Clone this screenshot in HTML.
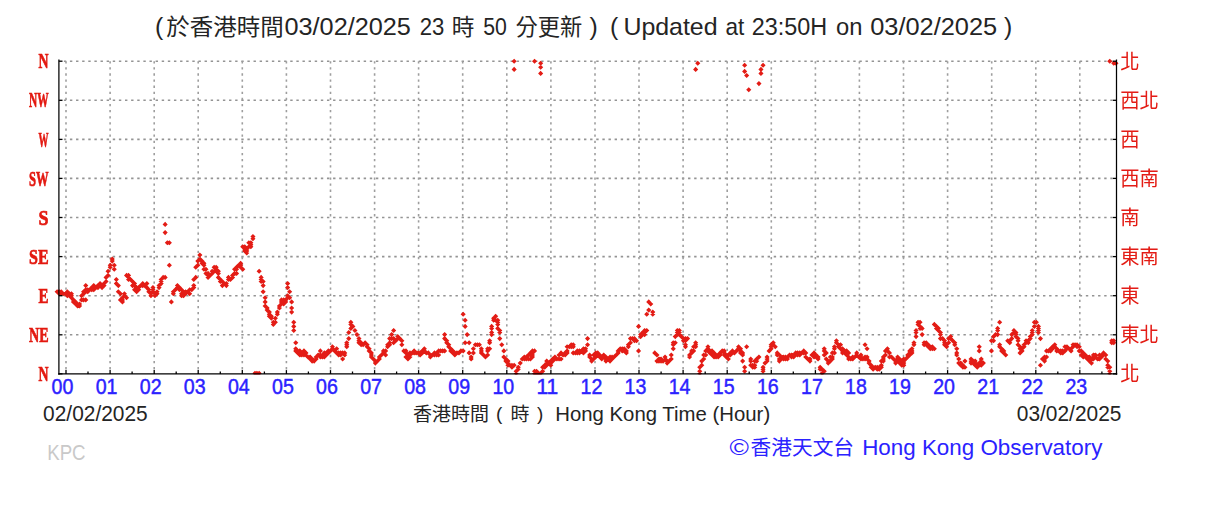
<!DOCTYPE html>
<html lang="zh-Hant"><head><meta charset="utf-8"><title>KPC wind direction</title>
<style>
html,body{margin:0;padding:0;background:#fff}
body{width:1224px;height:517px;overflow:hidden}
svg{display:block}
.t{font-family:"Liberation Sans","Noto Sans CJK TC",sans-serif;fill:#242424}
.ll{font-family:"Liberation Serif","Noto Serif CJK SC",serif;font-weight:bold;font-size:21px;fill:#e31a12;stroke:#e31a12;stroke-width:.7px}
.rl{font-family:"Liberation Sans","Noto Sans CJK TC",sans-serif;font-size:20px;fill:#e31a12}
.xl{font-family:"Liberation Sans",sans-serif;font-size:21.2px;fill:#2b22ff;stroke:#2b22ff;stroke-width:.45px}
</style></head><body>
<svg width="1224" height="517" viewBox="0 0 1224 517">
<defs><filter id="b" x="-2%" y="-2%" width="104%" height="104%"><feGaussianBlur stdDeviation="0.7"/></filter><clipPath id="cp"><rect x="50" y="55" width="1075" height="319.6"/></clipPath></defs>
<rect width="1224" height="517" fill="#fff"/>
<g class="t" font-size="24.8px">
<text x="154.9" y="35.4" textLength="10">(</text>
<text x="166.3" y="35.2" font-size="22.4px" textLength="117.5" lengthAdjust="spacingAndGlyphs">於香港時間</text>
<text x="284.5" y="35.4" textLength="126.4" lengthAdjust="spacingAndGlyphs">03/02/2025</text>
<text x="419.7" y="35.4" textLength="24.6" lengthAdjust="spacingAndGlyphs">23</text>
<text x="451.8" y="35.2" font-size="22.4px" textLength="22.7" lengthAdjust="spacingAndGlyphs">時</text>
<text x="483.2" y="35.4" textLength="23.6" lengthAdjust="spacingAndGlyphs">50</text>
<text x="515.6" y="35.2" font-size="22.4px" textLength="66.7" lengthAdjust="spacingAndGlyphs">分更新</text>
<text x="589.6" y="35.4">)</text>
<text x="610" y="35.4">(</text>
<text x="623.4" y="35.4" textLength="94.2" lengthAdjust="spacingAndGlyphs">Updated</text>
<text x="725.4" y="35.4" textLength="18.8" lengthAdjust="spacingAndGlyphs">at</text>
<text x="751.8" y="35.4" textLength="75.4" lengthAdjust="spacingAndGlyphs">23:50H</text>
<text x="836" y="35.4" textLength="26.4" lengthAdjust="spacingAndGlyphs">on</text>
<text x="870.2" y="35.4" textLength="127" lengthAdjust="spacingAndGlyphs">03/02/2025</text>
<text x="1004" y="35.4">)</text>
</g>
<g filter="url(#b)">
<g stroke="#949494" stroke-width="1.6" stroke-dasharray="2.4 3.72" stroke-dashoffset="0.1" fill="none"><line x1="63.9" y1="61.2" x2="1116.5" y2="61.2"/><line x1="63.9" y1="100.3" x2="1116.5" y2="100.3"/><line x1="63.9" y1="139.4" x2="1116.5" y2="139.4"/><line x1="63.9" y1="178.4" x2="1116.5" y2="178.4"/><line x1="63.9" y1="217.5" x2="1116.5" y2="217.5"/><line x1="63.9" y1="256.6" x2="1116.5" y2="256.6"/><line x1="63.9" y1="295.7" x2="1116.5" y2="295.7"/><line x1="63.9" y1="334.8" x2="1116.5" y2="334.8"/></g>
<g stroke="#9e9e9e" stroke-width="1.6" stroke-dasharray="2.3 3.82" stroke-dashoffset="0.1" fill="none"><line x1="66.0" y1="61.2" x2="66.0" y2="373.9"/><line x1="110.1" y1="61.2" x2="110.1" y2="373.9"/><line x1="154.2" y1="61.2" x2="154.2" y2="373.9"/><line x1="198.2" y1="61.2" x2="198.2" y2="373.9"/><line x1="242.3" y1="61.2" x2="242.3" y2="373.9"/><line x1="286.4" y1="61.2" x2="286.4" y2="373.9"/><line x1="330.5" y1="61.2" x2="330.5" y2="373.9"/><line x1="374.6" y1="61.2" x2="374.6" y2="373.9"/><line x1="418.6" y1="61.2" x2="418.6" y2="373.9"/><line x1="462.7" y1="61.2" x2="462.7" y2="373.9"/><line x1="506.8" y1="61.2" x2="506.8" y2="373.9"/><line x1="550.9" y1="61.2" x2="550.9" y2="373.9"/><line x1="595.0" y1="61.2" x2="595.0" y2="373.9"/><line x1="639.0" y1="61.2" x2="639.0" y2="373.9"/><line x1="683.1" y1="61.2" x2="683.1" y2="373.9"/><line x1="727.2" y1="61.2" x2="727.2" y2="373.9"/><line x1="771.3" y1="61.2" x2="771.3" y2="373.9"/><line x1="815.4" y1="61.2" x2="815.4" y2="373.9"/><line x1="859.4" y1="61.2" x2="859.4" y2="373.9"/><line x1="903.5" y1="61.2" x2="903.5" y2="373.9"/><line x1="947.6" y1="61.2" x2="947.6" y2="373.9"/><line x1="991.7" y1="61.2" x2="991.7" y2="373.9"/><line x1="1035.8" y1="61.2" x2="1035.8" y2="373.9"/><line x1="1079.8" y1="61.2" x2="1079.8" y2="373.9"/></g>
<path clip-path="url(#cp)" fill="#e31a12" d="M54.6 291.7l2.55 -2.55 2.55 2.55 -2.55 2.55zM56.7 293.8l2.55 -2.55 2.55 2.55 -2.55 2.55zM56.7 291.7l2.55 -2.55 2.55 2.55 -2.55 2.55zM58.7 291.7l2.55 -2.55 2.55 2.55 -2.55 2.55zM58.7 293.8l2.55 -2.55 2.55 2.55 -2.55 2.55zM60.7 293.8l2.55 -2.55 2.55 2.55 -2.55 2.55zM62.8 293.8l2.55 -2.55 2.55 2.55 -2.55 2.55zM64.8 291.7l2.55 -2.55 2.55 2.55 -2.55 2.55zM64.8 295.8l2.55 -2.55 2.55 2.55 -2.55 2.55zM64.8 293.8l2.55 -2.55 2.55 2.55 -2.55 2.55zM66.9 295.8l2.55 -2.55 2.55 2.55 -2.55 2.55zM66.9 293.8l2.55 -2.55 2.55 2.55 -2.55 2.55zM68.9 293.8l2.55 -2.55 2.55 2.55 -2.55 2.55zM68.9 295.8l2.55 -2.55 2.55 2.55 -2.55 2.55zM68.9 297.8l2.55 -2.55 2.55 2.55 -2.55 2.55zM70.9 299.9l2.55 -2.55 2.55 2.55 -2.55 2.55zM70.9 301.9l2.55 -2.55 2.55 2.55 -2.55 2.55zM73.0 301.9l2.55 -2.55 2.55 2.55 -2.55 2.55zM73.0 304.0l2.55 -2.55 2.55 2.55 -2.55 2.55zM75.0 306.0l2.55 -2.55 2.55 2.55 -2.55 2.55zM75.0 304.0l2.55 -2.55 2.55 2.55 -2.55 2.55zM77.0 306.0l2.55 -2.55 2.55 2.55 -2.55 2.55zM77.0 304.0l2.55 -2.55 2.55 2.55 -2.55 2.55zM79.0 299.9l2.55 -2.55 2.55 2.55 -2.55 2.55zM79.0 295.8l2.55 -2.55 2.55 2.55 -2.55 2.55zM81.0 293.8l2.55 -2.55 2.55 2.55 -2.55 2.55zM81.0 291.7l2.55 -2.55 2.55 2.55 -2.55 2.55zM83.2 291.7l2.55 -2.55 2.55 2.55 -2.55 2.55zM83.2 289.7l2.55 -2.55 2.55 2.55 -2.55 2.55zM85.2 289.7l2.55 -2.55 2.55 2.55 -2.55 2.55zM85.2 291.7l2.55 -2.55 2.55 2.55 -2.55 2.55zM87.2 289.7l2.55 -2.55 2.55 2.55 -2.55 2.55zM89.2 289.7l2.55 -2.55 2.55 2.55 -2.55 2.55zM89.2 287.6l2.55 -2.55 2.55 2.55 -2.55 2.55zM91.2 289.7l2.55 -2.55 2.55 2.55 -2.55 2.55zM91.2 285.6l2.55 -2.55 2.55 2.55 -2.55 2.55zM93.4 287.6l2.55 -2.55 2.55 2.55 -2.55 2.55zM95.4 285.6l2.55 -2.55 2.55 2.55 -2.55 2.55zM95.4 287.6l2.55 -2.55 2.55 2.55 -2.55 2.55zM97.5 283.6l2.55 -2.55 2.55 2.55 -2.55 2.55zM97.5 285.6l2.55 -2.55 2.55 2.55 -2.55 2.55zM99.5 285.6l2.55 -2.55 2.55 2.55 -2.55 2.55zM99.5 287.6l2.55 -2.55 2.55 2.55 -2.55 2.55zM101.5 285.6l2.55 -2.55 2.55 2.55 -2.55 2.55zM101.5 283.6l2.55 -2.55 2.55 2.55 -2.55 2.55zM103.5 281.5l2.55 -2.55 2.55 2.55 -2.55 2.55zM103.5 277.4l2.55 -2.55 2.55 2.55 -2.55 2.55zM105.5 275.4l2.55 -2.55 2.55 2.55 -2.55 2.55zM105.5 271.3l2.55 -2.55 2.55 2.55 -2.55 2.55zM107.7 267.2l2.55 -2.55 2.55 2.55 -2.55 2.55zM107.7 265.2l2.55 -2.55 2.55 2.55 -2.55 2.55zM109.7 259.1l2.55 -2.55 2.55 2.55 -2.55 2.55zM109.7 261.1l2.55 -2.55 2.55 2.55 -2.55 2.55zM111.7 265.2l2.55 -2.55 2.55 2.55 -2.55 2.55zM111.7 269.3l2.55 -2.55 2.55 2.55 -2.55 2.55zM113.8 279.5l2.55 -2.55 2.55 2.55 -2.55 2.55zM113.8 283.6l2.55 -2.55 2.55 2.55 -2.55 2.55zM115.8 285.6l2.55 -2.55 2.55 2.55 -2.55 2.55zM115.8 291.7l2.55 -2.55 2.55 2.55 -2.55 2.55zM117.9 293.8l2.55 -2.55 2.55 2.55 -2.55 2.55zM117.9 299.9l2.55 -2.55 2.55 2.55 -2.55 2.55zM119.9 301.9l2.55 -2.55 2.55 2.55 -2.55 2.55zM119.9 299.9l2.55 -2.55 2.55 2.55 -2.55 2.55zM119.9 297.8l2.55 -2.55 2.55 2.55 -2.55 2.55zM121.9 295.8l2.55 -2.55 2.55 2.55 -2.55 2.55zM121.9 293.8l2.55 -2.55 2.55 2.55 -2.55 2.55zM124.0 297.8l2.55 -2.55 2.55 2.55 -2.55 2.55zM124.0 275.4l2.55 -2.55 2.55 2.55 -2.55 2.55zM126.0 277.4l2.55 -2.55 2.55 2.55 -2.55 2.55zM126.0 275.4l2.55 -2.55 2.55 2.55 -2.55 2.55zM126.0 279.5l2.55 -2.55 2.55 2.55 -2.55 2.55zM128.0 279.5l2.55 -2.55 2.55 2.55 -2.55 2.55zM130.0 281.5l2.55 -2.55 2.55 2.55 -2.55 2.55zM130.0 285.6l2.55 -2.55 2.55 2.55 -2.55 2.55zM132.0 283.6l2.55 -2.55 2.55 2.55 -2.55 2.55zM132.0 285.6l2.55 -2.55 2.55 2.55 -2.55 2.55zM132.0 289.7l2.55 -2.55 2.55 2.55 -2.55 2.55zM134.1 287.6l2.55 -2.55 2.55 2.55 -2.55 2.55zM134.1 291.7l2.55 -2.55 2.55 2.55 -2.55 2.55zM136.1 289.7l2.55 -2.55 2.55 2.55 -2.55 2.55zM136.1 287.6l2.55 -2.55 2.55 2.55 -2.55 2.55zM138.2 285.6l2.55 -2.55 2.55 2.55 -2.55 2.55zM140.2 285.6l2.55 -2.55 2.55 2.55 -2.55 2.55zM140.2 283.6l2.55 -2.55 2.55 2.55 -2.55 2.55zM142.2 285.6l2.55 -2.55 2.55 2.55 -2.55 2.55zM144.3 283.6l2.55 -2.55 2.55 2.55 -2.55 2.55zM144.3 287.6l2.55 -2.55 2.55 2.55 -2.55 2.55zM146.3 289.7l2.55 -2.55 2.55 2.55 -2.55 2.55zM146.3 291.7l2.55 -2.55 2.55 2.55 -2.55 2.55zM148.4 295.8l2.55 -2.55 2.55 2.55 -2.55 2.55zM148.4 293.8l2.55 -2.55 2.55 2.55 -2.55 2.55zM150.4 289.7l2.55 -2.55 2.55 2.55 -2.55 2.55zM150.4 291.7l2.55 -2.55 2.55 2.55 -2.55 2.55zM150.4 287.6l2.55 -2.55 2.55 2.55 -2.55 2.55zM152.4 295.8l2.55 -2.55 2.55 2.55 -2.55 2.55zM152.4 293.8l2.55 -2.55 2.55 2.55 -2.55 2.55zM154.5 293.8l2.55 -2.55 2.55 2.55 -2.55 2.55zM154.5 291.7l2.55 -2.55 2.55 2.55 -2.55 2.55zM156.5 287.6l2.55 -2.55 2.55 2.55 -2.55 2.55zM156.5 285.6l2.55 -2.55 2.55 2.55 -2.55 2.55zM158.6 283.6l2.55 -2.55 2.55 2.55 -2.55 2.55zM158.6 281.5l2.55 -2.55 2.55 2.55 -2.55 2.55zM158.6 279.5l2.55 -2.55 2.55 2.55 -2.55 2.55zM160.6 277.4l2.55 -2.55 2.55 2.55 -2.55 2.55zM162.6 277.4l2.55 -2.55 2.55 2.55 -2.55 2.55zM170.8 293.8l2.55 -2.55 2.55 2.55 -2.55 2.55zM170.8 291.7l2.55 -2.55 2.55 2.55 -2.55 2.55zM172.8 289.7l2.55 -2.55 2.55 2.55 -2.55 2.55zM174.9 287.6l2.55 -2.55 2.55 2.55 -2.55 2.55zM174.9 285.6l2.55 -2.55 2.55 2.55 -2.55 2.55zM176.9 287.6l2.55 -2.55 2.55 2.55 -2.55 2.55zM176.9 289.7l2.55 -2.55 2.55 2.55 -2.55 2.55zM179.0 289.7l2.55 -2.55 2.55 2.55 -2.55 2.55zM179.0 293.8l2.55 -2.55 2.55 2.55 -2.55 2.55zM179.0 295.8l2.55 -2.55 2.55 2.55 -2.55 2.55zM181.0 291.7l2.55 -2.55 2.55 2.55 -2.55 2.55zM181.0 293.8l2.55 -2.55 2.55 2.55 -2.55 2.55zM181.0 295.8l2.55 -2.55 2.55 2.55 -2.55 2.55zM183.0 293.8l2.55 -2.55 2.55 2.55 -2.55 2.55zM183.0 291.7l2.55 -2.55 2.55 2.55 -2.55 2.55zM185.1 291.7l2.55 -2.55 2.55 2.55 -2.55 2.55zM187.1 289.7l2.55 -2.55 2.55 2.55 -2.55 2.55zM187.1 293.8l2.55 -2.55 2.55 2.55 -2.55 2.55zM189.2 289.7l2.55 -2.55 2.55 2.55 -2.55 2.55zM191.2 287.6l2.55 -2.55 2.55 2.55 -2.55 2.55zM191.2 285.6l2.55 -2.55 2.55 2.55 -2.55 2.55zM191.2 279.5l2.55 -2.55 2.55 2.55 -2.55 2.55zM193.2 277.4l2.55 -2.55 2.55 2.55 -2.55 2.55zM193.2 267.2l2.55 -2.55 2.55 2.55 -2.55 2.55zM195.3 265.2l2.55 -2.55 2.55 2.55 -2.55 2.55zM195.3 261.1l2.55 -2.55 2.55 2.55 -2.55 2.55zM197.3 259.1l2.55 -2.55 2.55 2.55 -2.55 2.55zM197.3 255.0l2.55 -2.55 2.55 2.55 -2.55 2.55zM199.4 261.1l2.55 -2.55 2.55 2.55 -2.55 2.55zM199.4 263.2l2.55 -2.55 2.55 2.55 -2.55 2.55zM201.4 265.2l2.55 -2.55 2.55 2.55 -2.55 2.55zM201.4 263.2l2.55 -2.55 2.55 2.55 -2.55 2.55zM201.4 269.3l2.55 -2.55 2.55 2.55 -2.55 2.55zM203.4 269.3l2.55 -2.55 2.55 2.55 -2.55 2.55zM203.4 273.4l2.55 -2.55 2.55 2.55 -2.55 2.55zM205.5 273.4l2.55 -2.55 2.55 2.55 -2.55 2.55zM205.5 275.4l2.55 -2.55 2.55 2.55 -2.55 2.55zM205.5 277.4l2.55 -2.55 2.55 2.55 -2.55 2.55zM207.5 275.4l2.55 -2.55 2.55 2.55 -2.55 2.55zM209.6 273.4l2.55 -2.55 2.55 2.55 -2.55 2.55zM209.6 271.3l2.55 -2.55 2.55 2.55 -2.55 2.55zM211.6 271.3l2.55 -2.55 2.55 2.55 -2.55 2.55zM211.6 267.2l2.55 -2.55 2.55 2.55 -2.55 2.55zM213.6 269.3l2.55 -2.55 2.55 2.55 -2.55 2.55zM213.6 267.2l2.55 -2.55 2.55 2.55 -2.55 2.55zM213.6 271.3l2.55 -2.55 2.55 2.55 -2.55 2.55zM215.8 271.3l2.55 -2.55 2.55 2.55 -2.55 2.55zM215.8 273.4l2.55 -2.55 2.55 2.55 -2.55 2.55zM215.8 277.4l2.55 -2.55 2.55 2.55 -2.55 2.55zM217.8 279.5l2.55 -2.55 2.55 2.55 -2.55 2.55zM217.8 281.5l2.55 -2.55 2.55 2.55 -2.55 2.55zM219.8 281.5l2.55 -2.55 2.55 2.55 -2.55 2.55zM219.8 285.6l2.55 -2.55 2.55 2.55 -2.55 2.55zM221.8 283.6l2.55 -2.55 2.55 2.55 -2.55 2.55zM223.8 285.6l2.55 -2.55 2.55 2.55 -2.55 2.55zM223.8 283.6l2.55 -2.55 2.55 2.55 -2.55 2.55zM225.9 279.5l2.55 -2.55 2.55 2.55 -2.55 2.55zM225.9 277.4l2.55 -2.55 2.55 2.55 -2.55 2.55zM227.9 279.5l2.55 -2.55 2.55 2.55 -2.55 2.55zM230.0 275.4l2.55 -2.55 2.55 2.55 -2.55 2.55zM230.0 277.4l2.55 -2.55 2.55 2.55 -2.55 2.55zM232.0 273.4l2.55 -2.55 2.55 2.55 -2.55 2.55zM232.0 269.3l2.55 -2.55 2.55 2.55 -2.55 2.55zM234.0 273.4l2.55 -2.55 2.55 2.55 -2.55 2.55zM234.0 269.3l2.55 -2.55 2.55 2.55 -2.55 2.55zM234.0 267.2l2.55 -2.55 2.55 2.55 -2.55 2.55zM236.1 265.2l2.55 -2.55 2.55 2.55 -2.55 2.55zM238.1 265.2l2.55 -2.55 2.55 2.55 -2.55 2.55zM238.1 263.2l2.55 -2.55 2.55 2.55 -2.55 2.55zM238.1 267.2l2.55 -2.55 2.55 2.55 -2.55 2.55zM240.2 269.3l2.55 -2.55 2.55 2.55 -2.55 2.55zM240.2 246.8l2.55 -2.55 2.55 2.55 -2.55 2.55zM242.2 250.9l2.55 -2.55 2.55 2.55 -2.55 2.55zM242.2 248.9l2.55 -2.55 2.55 2.55 -2.55 2.55zM244.2 253.0l2.55 -2.55 2.55 2.55 -2.55 2.55zM244.2 250.9l2.55 -2.55 2.55 2.55 -2.55 2.55zM246.3 246.8l2.55 -2.55 2.55 2.55 -2.55 2.55zM246.3 242.8l2.55 -2.55 2.55 2.55 -2.55 2.55zM248.3 244.8l2.55 -2.55 2.55 2.55 -2.55 2.55zM248.3 242.8l2.55 -2.55 2.55 2.55 -2.55 2.55zM250.4 238.7l2.55 -2.55 2.55 2.55 -2.55 2.55zM250.4 236.6l2.55 -2.55 2.55 2.55 -2.55 2.55zM256.6 271.3l2.55 -2.55 2.55 2.55 -2.55 2.55zM258.6 277.4l2.55 -2.55 2.55 2.55 -2.55 2.55zM258.6 279.5l2.55 -2.55 2.55 2.55 -2.55 2.55zM258.6 281.5l2.55 -2.55 2.55 2.55 -2.55 2.55zM260.6 281.5l2.55 -2.55 2.55 2.55 -2.55 2.55zM260.6 285.6l2.55 -2.55 2.55 2.55 -2.55 2.55zM260.6 291.7l2.55 -2.55 2.55 2.55 -2.55 2.55zM262.6 297.8l2.55 -2.55 2.55 2.55 -2.55 2.55zM262.6 301.9l2.55 -2.55 2.55 2.55 -2.55 2.55zM262.6 306.0l2.55 -2.55 2.55 2.55 -2.55 2.55zM264.6 308.0l2.55 -2.55 2.55 2.55 -2.55 2.55zM264.6 310.1l2.55 -2.55 2.55 2.55 -2.55 2.55zM266.8 314.2l2.55 -2.55 2.55 2.55 -2.55 2.55zM266.8 312.1l2.55 -2.55 2.55 2.55 -2.55 2.55zM266.8 316.2l2.55 -2.55 2.55 2.55 -2.55 2.55zM268.8 316.2l2.55 -2.55 2.55 2.55 -2.55 2.55zM268.8 318.2l2.55 -2.55 2.55 2.55 -2.55 2.55zM270.8 322.3l2.55 -2.55 2.55 2.55 -2.55 2.55zM270.8 324.4l2.55 -2.55 2.55 2.55 -2.55 2.55zM272.8 322.3l2.55 -2.55 2.55 2.55 -2.55 2.55zM272.8 318.2l2.55 -2.55 2.55 2.55 -2.55 2.55zM274.8 314.2l2.55 -2.55 2.55 2.55 -2.55 2.55zM274.8 312.1l2.55 -2.55 2.55 2.55 -2.55 2.55zM276.9 308.0l2.55 -2.55 2.55 2.55 -2.55 2.55zM276.9 306.0l2.55 -2.55 2.55 2.55 -2.55 2.55zM278.9 304.0l2.55 -2.55 2.55 2.55 -2.55 2.55zM278.9 301.9l2.55 -2.55 2.55 2.55 -2.55 2.55zM281.1 299.9l2.55 -2.55 2.55 2.55 -2.55 2.55zM283.1 299.9l2.55 -2.55 2.55 2.55 -2.55 2.55zM283.1 301.9l2.55 -2.55 2.55 2.55 -2.55 2.55zM285.1 297.8l2.55 -2.55 2.55 2.55 -2.55 2.55zM285.1 295.8l2.55 -2.55 2.55 2.55 -2.55 2.55zM293.2 348.8l2.55 -2.55 2.55 2.55 -2.55 2.55zM293.2 350.9l2.55 -2.55 2.55 2.55 -2.55 2.55zM295.2 350.9l2.55 -2.55 2.55 2.55 -2.55 2.55zM295.2 352.9l2.55 -2.55 2.55 2.55 -2.55 2.55zM297.3 352.9l2.55 -2.55 2.55 2.55 -2.55 2.55zM297.3 350.9l2.55 -2.55 2.55 2.55 -2.55 2.55zM297.3 355.0l2.55 -2.55 2.55 2.55 -2.55 2.55zM299.3 355.0l2.55 -2.55 2.55 2.55 -2.55 2.55zM299.3 352.9l2.55 -2.55 2.55 2.55 -2.55 2.55zM301.4 355.0l2.55 -2.55 2.55 2.55 -2.55 2.55zM301.4 352.9l2.55 -2.55 2.55 2.55 -2.55 2.55zM301.4 350.9l2.55 -2.55 2.55 2.55 -2.55 2.55zM303.4 352.9l2.55 -2.55 2.55 2.55 -2.55 2.55zM303.4 355.0l2.55 -2.55 2.55 2.55 -2.55 2.55zM305.4 357.0l2.55 -2.55 2.55 2.55 -2.55 2.55zM307.6 357.0l2.55 -2.55 2.55 2.55 -2.55 2.55zM307.6 359.0l2.55 -2.55 2.55 2.55 -2.55 2.55zM309.6 359.0l2.55 -2.55 2.55 2.55 -2.55 2.55zM309.6 361.1l2.55 -2.55 2.55 2.55 -2.55 2.55zM311.6 361.1l2.55 -2.55 2.55 2.55 -2.55 2.55zM313.6 357.0l2.55 -2.55 2.55 2.55 -2.55 2.55zM313.6 359.0l2.55 -2.55 2.55 2.55 -2.55 2.55zM315.6 355.0l2.55 -2.55 2.55 2.55 -2.55 2.55zM317.8 357.0l2.55 -2.55 2.55 2.55 -2.55 2.55zM317.8 350.9l2.55 -2.55 2.55 2.55 -2.55 2.55zM317.8 355.0l2.55 -2.55 2.55 2.55 -2.55 2.55zM319.8 357.0l2.55 -2.55 2.55 2.55 -2.55 2.55zM319.8 355.0l2.55 -2.55 2.55 2.55 -2.55 2.55zM321.8 357.0l2.55 -2.55 2.55 2.55 -2.55 2.55zM321.8 352.9l2.55 -2.55 2.55 2.55 -2.55 2.55zM323.8 352.9l2.55 -2.55 2.55 2.55 -2.55 2.55zM323.8 355.0l2.55 -2.55 2.55 2.55 -2.55 2.55zM325.8 352.9l2.55 -2.55 2.55 2.55 -2.55 2.55zM325.8 350.9l2.55 -2.55 2.55 2.55 -2.55 2.55zM327.9 350.9l2.55 -2.55 2.55 2.55 -2.55 2.55zM329.9 348.8l2.55 -2.55 2.55 2.55 -2.55 2.55zM329.9 346.8l2.55 -2.55 2.55 2.55 -2.55 2.55zM332.1 350.9l2.55 -2.55 2.55 2.55 -2.55 2.55zM334.1 348.8l2.55 -2.55 2.55 2.55 -2.55 2.55zM334.1 352.9l2.55 -2.55 2.55 2.55 -2.55 2.55zM336.1 352.9l2.55 -2.55 2.55 2.55 -2.55 2.55zM336.1 355.0l2.55 -2.55 2.55 2.55 -2.55 2.55zM338.1 352.9l2.55 -2.55 2.55 2.55 -2.55 2.55zM338.1 355.0l2.55 -2.55 2.55 2.55 -2.55 2.55zM340.1 352.9l2.55 -2.55 2.55 2.55 -2.55 2.55zM340.1 359.0l2.55 -2.55 2.55 2.55 -2.55 2.55zM342.2 355.0l2.55 -2.55 2.55 2.55 -2.55 2.55zM342.2 352.9l2.55 -2.55 2.55 2.55 -2.55 2.55zM344.2 346.8l2.55 -2.55 2.55 2.55 -2.55 2.55zM344.2 344.8l2.55 -2.55 2.55 2.55 -2.55 2.55zM344.2 342.7l2.55 -2.55 2.55 2.55 -2.55 2.55zM346.2 338.6l2.55 -2.55 2.55 2.55 -2.55 2.55zM346.2 332.5l2.55 -2.55 2.55 2.55 -2.55 2.55zM348.3 328.4l2.55 -2.55 2.55 2.55 -2.55 2.55zM348.3 324.4l2.55 -2.55 2.55 2.55 -2.55 2.55zM348.3 322.3l2.55 -2.55 2.55 2.55 -2.55 2.55zM350.3 326.4l2.55 -2.55 2.55 2.55 -2.55 2.55zM352.4 330.5l2.55 -2.55 2.55 2.55 -2.55 2.55zM354.4 334.6l2.55 -2.55 2.55 2.55 -2.55 2.55zM356.4 338.6l2.55 -2.55 2.55 2.55 -2.55 2.55zM356.4 340.7l2.55 -2.55 2.55 2.55 -2.55 2.55zM356.4 342.7l2.55 -2.55 2.55 2.55 -2.55 2.55zM358.6 342.7l2.55 -2.55 2.55 2.55 -2.55 2.55zM358.6 344.8l2.55 -2.55 2.55 2.55 -2.55 2.55zM360.6 344.8l2.55 -2.55 2.55 2.55 -2.55 2.55zM362.6 342.7l2.55 -2.55 2.55 2.55 -2.55 2.55zM364.6 344.8l2.55 -2.55 2.55 2.55 -2.55 2.55zM364.6 346.8l2.55 -2.55 2.55 2.55 -2.55 2.55zM366.6 348.8l2.55 -2.55 2.55 2.55 -2.55 2.55zM366.6 350.9l2.55 -2.55 2.55 2.55 -2.55 2.55zM368.8 352.9l2.55 -2.55 2.55 2.55 -2.55 2.55zM368.8 355.0l2.55 -2.55 2.55 2.55 -2.55 2.55zM368.8 357.0l2.55 -2.55 2.55 2.55 -2.55 2.55zM370.8 359.0l2.55 -2.55 2.55 2.55 -2.55 2.55zM372.8 361.1l2.55 -2.55 2.55 2.55 -2.55 2.55zM372.8 363.1l2.55 -2.55 2.55 2.55 -2.55 2.55zM374.8 361.1l2.55 -2.55 2.55 2.55 -2.55 2.55zM376.8 359.0l2.55 -2.55 2.55 2.55 -2.55 2.55zM376.8 357.0l2.55 -2.55 2.55 2.55 -2.55 2.55zM378.9 355.0l2.55 -2.55 2.55 2.55 -2.55 2.55zM380.9 352.9l2.55 -2.55 2.55 2.55 -2.55 2.55zM380.9 350.9l2.55 -2.55 2.55 2.55 -2.55 2.55zM383.1 355.0l2.55 -2.55 2.55 2.55 -2.55 2.55zM383.1 350.9l2.55 -2.55 2.55 2.55 -2.55 2.55zM385.1 346.8l2.55 -2.55 2.55 2.55 -2.55 2.55zM385.1 344.8l2.55 -2.55 2.55 2.55 -2.55 2.55zM387.1 344.8l2.55 -2.55 2.55 2.55 -2.55 2.55zM387.1 342.7l2.55 -2.55 2.55 2.55 -2.55 2.55zM387.1 338.6l2.55 -2.55 2.55 2.55 -2.55 2.55zM389.1 338.6l2.55 -2.55 2.55 2.55 -2.55 2.55zM389.1 334.6l2.55 -2.55 2.55 2.55 -2.55 2.55zM391.1 330.5l2.55 -2.55 2.55 2.55 -2.55 2.55zM391.1 338.6l2.55 -2.55 2.55 2.55 -2.55 2.55zM391.1 342.7l2.55 -2.55 2.55 2.55 -2.55 2.55zM393.2 340.7l2.55 -2.55 2.55 2.55 -2.55 2.55zM395.2 336.6l2.55 -2.55 2.55 2.55 -2.55 2.55zM395.2 338.6l2.55 -2.55 2.55 2.55 -2.55 2.55zM397.2 338.6l2.55 -2.55 2.55 2.55 -2.55 2.55zM399.3 340.7l2.55 -2.55 2.55 2.55 -2.55 2.55zM399.3 344.8l2.55 -2.55 2.55 2.55 -2.55 2.55zM401.3 350.9l2.55 -2.55 2.55 2.55 -2.55 2.55zM403.4 350.9l2.55 -2.55 2.55 2.55 -2.55 2.55zM403.4 352.9l2.55 -2.55 2.55 2.55 -2.55 2.55zM403.4 357.0l2.55 -2.55 2.55 2.55 -2.55 2.55zM405.4 355.0l2.55 -2.55 2.55 2.55 -2.55 2.55zM405.4 359.0l2.55 -2.55 2.55 2.55 -2.55 2.55zM407.4 357.0l2.55 -2.55 2.55 2.55 -2.55 2.55zM407.4 355.0l2.55 -2.55 2.55 2.55 -2.55 2.55zM407.4 352.9l2.55 -2.55 2.55 2.55 -2.55 2.55zM409.6 352.9l2.55 -2.55 2.55 2.55 -2.55 2.55zM411.6 352.9l2.55 -2.55 2.55 2.55 -2.55 2.55zM411.6 350.9l2.55 -2.55 2.55 2.55 -2.55 2.55zM413.6 352.9l2.55 -2.55 2.55 2.55 -2.55 2.55zM415.6 352.9l2.55 -2.55 2.55 2.55 -2.55 2.55zM417.6 355.0l2.55 -2.55 2.55 2.55 -2.55 2.55zM417.6 352.9l2.55 -2.55 2.55 2.55 -2.55 2.55zM419.8 352.9l2.55 -2.55 2.55 2.55 -2.55 2.55zM419.8 350.9l2.55 -2.55 2.55 2.55 -2.55 2.55zM421.8 350.9l2.55 -2.55 2.55 2.55 -2.55 2.55zM421.8 348.8l2.55 -2.55 2.55 2.55 -2.55 2.55zM423.8 352.9l2.55 -2.55 2.55 2.55 -2.55 2.55zM425.8 352.9l2.55 -2.55 2.55 2.55 -2.55 2.55zM427.8 357.0l2.55 -2.55 2.55 2.55 -2.55 2.55zM427.8 355.0l2.55 -2.55 2.55 2.55 -2.55 2.55zM429.9 355.0l2.55 -2.55 2.55 2.55 -2.55 2.55zM431.9 352.9l2.55 -2.55 2.55 2.55 -2.55 2.55zM431.9 355.0l2.55 -2.55 2.55 2.55 -2.55 2.55zM434.1 355.0l2.55 -2.55 2.55 2.55 -2.55 2.55zM434.1 352.9l2.55 -2.55 2.55 2.55 -2.55 2.55zM436.1 355.0l2.55 -2.55 2.55 2.55 -2.55 2.55zM436.1 350.9l2.55 -2.55 2.55 2.55 -2.55 2.55zM438.1 350.9l2.55 -2.55 2.55 2.55 -2.55 2.55zM440.1 350.9l2.55 -2.55 2.55 2.55 -2.55 2.55zM442.1 350.9l2.55 -2.55 2.55 2.55 -2.55 2.55zM442.1 334.6l2.55 -2.55 2.55 2.55 -2.55 2.55zM442.1 338.6l2.55 -2.55 2.55 2.55 -2.55 2.55zM444.2 340.7l2.55 -2.55 2.55 2.55 -2.55 2.55zM444.2 342.7l2.55 -2.55 2.55 2.55 -2.55 2.55zM446.2 344.8l2.55 -2.55 2.55 2.55 -2.55 2.55zM446.2 346.8l2.55 -2.55 2.55 2.55 -2.55 2.55zM448.2 348.8l2.55 -2.55 2.55 2.55 -2.55 2.55zM448.2 350.9l2.55 -2.55 2.55 2.55 -2.55 2.55zM450.3 352.9l2.55 -2.55 2.55 2.55 -2.55 2.55zM450.3 350.9l2.55 -2.55 2.55 2.55 -2.55 2.55zM452.3 355.0l2.55 -2.55 2.55 2.55 -2.55 2.55zM452.3 352.9l2.55 -2.55 2.55 2.55 -2.55 2.55zM454.4 352.9l2.55 -2.55 2.55 2.55 -2.55 2.55zM456.4 352.9l2.55 -2.55 2.55 2.55 -2.55 2.55zM458.4 350.9l2.55 -2.55 2.55 2.55 -2.55 2.55zM460.6 350.9l2.55 -2.55 2.55 2.55 -2.55 2.55zM466.6 352.9l2.55 -2.55 2.55 2.55 -2.55 2.55zM468.6 357.0l2.55 -2.55 2.55 2.55 -2.55 2.55zM468.6 359.0l2.55 -2.55 2.55 2.55 -2.55 2.55zM470.8 352.9l2.55 -2.55 2.55 2.55 -2.55 2.55zM470.8 348.8l2.55 -2.55 2.55 2.55 -2.55 2.55zM472.8 344.8l2.55 -2.55 2.55 2.55 -2.55 2.55zM474.8 344.8l2.55 -2.55 2.55 2.55 -2.55 2.55zM476.8 344.8l2.55 -2.55 2.55 2.55 -2.55 2.55zM478.8 348.8l2.55 -2.55 2.55 2.55 -2.55 2.55zM478.8 350.9l2.55 -2.55 2.55 2.55 -2.55 2.55zM478.8 352.9l2.55 -2.55 2.55 2.55 -2.55 2.55zM480.9 355.0l2.55 -2.55 2.55 2.55 -2.55 2.55zM482.9 357.0l2.55 -2.55 2.55 2.55 -2.55 2.55zM485.1 355.0l2.55 -2.55 2.55 2.55 -2.55 2.55zM485.1 350.9l2.55 -2.55 2.55 2.55 -2.55 2.55zM485.1 348.8l2.55 -2.55 2.55 2.55 -2.55 2.55zM487.1 348.8l2.55 -2.55 2.55 2.55 -2.55 2.55zM487.1 342.7l2.55 -2.55 2.55 2.55 -2.55 2.55zM487.1 340.7l2.55 -2.55 2.55 2.55 -2.55 2.55zM489.1 334.6l2.55 -2.55 2.55 2.55 -2.55 2.55zM489.1 332.5l2.55 -2.55 2.55 2.55 -2.55 2.55zM489.1 328.4l2.55 -2.55 2.55 2.55 -2.55 2.55zM489.1 326.4l2.55 -2.55 2.55 2.55 -2.55 2.55zM491.1 320.3l2.55 -2.55 2.55 2.55 -2.55 2.55zM491.1 318.2l2.55 -2.55 2.55 2.55 -2.55 2.55zM493.1 316.2l2.55 -2.55 2.55 2.55 -2.55 2.55zM493.1 320.3l2.55 -2.55 2.55 2.55 -2.55 2.55zM495.2 320.3l2.55 -2.55 2.55 2.55 -2.55 2.55zM495.2 322.3l2.55 -2.55 2.55 2.55 -2.55 2.55zM495.2 324.4l2.55 -2.55 2.55 2.55 -2.55 2.55zM495.2 328.4l2.55 -2.55 2.55 2.55 -2.55 2.55zM497.2 330.5l2.55 -2.55 2.55 2.55 -2.55 2.55zM497.2 332.5l2.55 -2.55 2.55 2.55 -2.55 2.55zM497.2 338.6l2.55 -2.55 2.55 2.55 -2.55 2.55zM499.2 344.8l2.55 -2.55 2.55 2.55 -2.55 2.55zM501.3 350.9l2.55 -2.55 2.55 2.55 -2.55 2.55zM501.3 357.0l2.55 -2.55 2.55 2.55 -2.55 2.55zM503.3 359.0l2.55 -2.55 2.55 2.55 -2.55 2.55zM503.3 361.1l2.55 -2.55 2.55 2.55 -2.55 2.55zM505.4 361.1l2.55 -2.55 2.55 2.55 -2.55 2.55zM505.4 363.1l2.55 -2.55 2.55 2.55 -2.55 2.55zM505.4 365.2l2.55 -2.55 2.55 2.55 -2.55 2.55zM507.4 365.2l2.55 -2.55 2.55 2.55 -2.55 2.55zM509.4 367.2l2.55 -2.55 2.55 2.55 -2.55 2.55zM509.4 365.2l2.55 -2.55 2.55 2.55 -2.55 2.55zM511.6 365.2l2.55 -2.55 2.55 2.55 -2.55 2.55zM513.6 371.3l2.55 -2.55 2.55 2.55 -2.55 2.55zM513.6 373.3l2.55 -2.55 2.55 2.55 -2.55 2.55zM515.7 369.2l2.55 -2.55 2.55 2.55 -2.55 2.55zM515.7 367.2l2.55 -2.55 2.55 2.55 -2.55 2.55zM517.7 363.1l2.55 -2.55 2.55 2.55 -2.55 2.55zM519.7 359.0l2.55 -2.55 2.55 2.55 -2.55 2.55zM521.8 359.0l2.55 -2.55 2.55 2.55 -2.55 2.55zM521.8 357.0l2.55 -2.55 2.55 2.55 -2.55 2.55zM523.8 359.0l2.55 -2.55 2.55 2.55 -2.55 2.55zM523.8 357.0l2.55 -2.55 2.55 2.55 -2.55 2.55zM525.9 355.0l2.55 -2.55 2.55 2.55 -2.55 2.55zM525.9 359.0l2.55 -2.55 2.55 2.55 -2.55 2.55zM527.9 355.0l2.55 -2.55 2.55 2.55 -2.55 2.55zM527.9 352.9l2.55 -2.55 2.55 2.55 -2.55 2.55zM529.9 352.9l2.55 -2.55 2.55 2.55 -2.55 2.55zM529.9 350.9l2.55 -2.55 2.55 2.55 -2.55 2.55zM529.9 355.0l2.55 -2.55 2.55 2.55 -2.55 2.55zM532.0 350.9l2.55 -2.55 2.55 2.55 -2.55 2.55zM532.0 373.3l2.55 -2.55 2.55 2.55 -2.55 2.55zM532.0 371.3l2.55 -2.55 2.55 2.55 -2.55 2.55zM534.0 371.3l2.55 -2.55 2.55 2.55 -2.55 2.55zM534.0 373.3l2.55 -2.55 2.55 2.55 -2.55 2.55zM536.1 373.3l2.55 -2.55 2.55 2.55 -2.55 2.55zM538.1 373.3l2.55 -2.55 2.55 2.55 -2.55 2.55zM540.1 371.3l2.55 -2.55 2.55 2.55 -2.55 2.55zM540.1 367.2l2.55 -2.55 2.55 2.55 -2.55 2.55zM542.2 367.2l2.55 -2.55 2.55 2.55 -2.55 2.55zM542.2 365.2l2.55 -2.55 2.55 2.55 -2.55 2.55zM544.2 365.2l2.55 -2.55 2.55 2.55 -2.55 2.55zM544.2 363.1l2.55 -2.55 2.55 2.55 -2.55 2.55zM544.2 361.1l2.55 -2.55 2.55 2.55 -2.55 2.55zM546.2 363.1l2.55 -2.55 2.55 2.55 -2.55 2.55zM548.2 365.2l2.55 -2.55 2.55 2.55 -2.55 2.55zM548.2 363.1l2.55 -2.55 2.55 2.55 -2.55 2.55zM548.2 361.1l2.55 -2.55 2.55 2.55 -2.55 2.55zM550.2 361.1l2.55 -2.55 2.55 2.55 -2.55 2.55zM550.2 359.0l2.55 -2.55 2.55 2.55 -2.55 2.55zM552.4 359.0l2.55 -2.55 2.55 2.55 -2.55 2.55zM552.4 357.0l2.55 -2.55 2.55 2.55 -2.55 2.55zM554.4 359.0l2.55 -2.55 2.55 2.55 -2.55 2.55zM556.5 359.0l2.55 -2.55 2.55 2.55 -2.55 2.55zM556.5 355.0l2.55 -2.55 2.55 2.55 -2.55 2.55zM558.5 359.0l2.55 -2.55 2.55 2.55 -2.55 2.55zM558.5 352.9l2.55 -2.55 2.55 2.55 -2.55 2.55zM560.5 355.0l2.55 -2.55 2.55 2.55 -2.55 2.55zM562.6 352.9l2.55 -2.55 2.55 2.55 -2.55 2.55zM562.6 355.0l2.55 -2.55 2.55 2.55 -2.55 2.55zM564.6 352.9l2.55 -2.55 2.55 2.55 -2.55 2.55zM564.6 350.9l2.55 -2.55 2.55 2.55 -2.55 2.55zM564.6 346.8l2.55 -2.55 2.55 2.55 -2.55 2.55zM566.7 346.8l2.55 -2.55 2.55 2.55 -2.55 2.55zM568.7 344.8l2.55 -2.55 2.55 2.55 -2.55 2.55zM568.7 346.8l2.55 -2.55 2.55 2.55 -2.55 2.55zM570.7 344.8l2.55 -2.55 2.55 2.55 -2.55 2.55zM570.7 346.8l2.55 -2.55 2.55 2.55 -2.55 2.55zM570.7 352.9l2.55 -2.55 2.55 2.55 -2.55 2.55zM572.8 352.9l2.55 -2.55 2.55 2.55 -2.55 2.55zM574.8 352.9l2.55 -2.55 2.55 2.55 -2.55 2.55zM574.8 350.9l2.55 -2.55 2.55 2.55 -2.55 2.55zM576.9 352.9l2.55 -2.55 2.55 2.55 -2.55 2.55zM576.9 350.9l2.55 -2.55 2.55 2.55 -2.55 2.55zM578.9 350.9l2.55 -2.55 2.55 2.55 -2.55 2.55zM580.9 348.8l2.55 -2.55 2.55 2.55 -2.55 2.55zM580.9 350.9l2.55 -2.55 2.55 2.55 -2.55 2.55zM580.9 352.9l2.55 -2.55 2.55 2.55 -2.55 2.55zM583.0 350.9l2.55 -2.55 2.55 2.55 -2.55 2.55zM583.0 348.8l2.55 -2.55 2.55 2.55 -2.55 2.55zM585.0 344.8l2.55 -2.55 2.55 2.55 -2.55 2.55zM585.0 338.6l2.55 -2.55 2.55 2.55 -2.55 2.55zM587.1 355.0l2.55 -2.55 2.55 2.55 -2.55 2.55zM587.1 357.0l2.55 -2.55 2.55 2.55 -2.55 2.55zM589.1 359.0l2.55 -2.55 2.55 2.55 -2.55 2.55zM589.1 361.1l2.55 -2.55 2.55 2.55 -2.55 2.55zM591.1 359.0l2.55 -2.55 2.55 2.55 -2.55 2.55zM591.1 355.0l2.55 -2.55 2.55 2.55 -2.55 2.55zM593.2 357.0l2.55 -2.55 2.55 2.55 -2.55 2.55zM593.2 352.9l2.55 -2.55 2.55 2.55 -2.55 2.55zM595.2 355.0l2.55 -2.55 2.55 2.55 -2.55 2.55zM595.2 352.9l2.55 -2.55 2.55 2.55 -2.55 2.55zM597.2 357.0l2.55 -2.55 2.55 2.55 -2.55 2.55zM597.2 355.0l2.55 -2.55 2.55 2.55 -2.55 2.55zM599.2 357.0l2.55 -2.55 2.55 2.55 -2.55 2.55zM599.2 359.0l2.55 -2.55 2.55 2.55 -2.55 2.55zM601.2 357.0l2.55 -2.55 2.55 2.55 -2.55 2.55zM601.2 355.0l2.55 -2.55 2.55 2.55 -2.55 2.55zM603.4 357.0l2.55 -2.55 2.55 2.55 -2.55 2.55zM603.4 359.0l2.55 -2.55 2.55 2.55 -2.55 2.55zM603.4 361.1l2.55 -2.55 2.55 2.55 -2.55 2.55zM605.4 359.0l2.55 -2.55 2.55 2.55 -2.55 2.55zM607.5 361.1l2.55 -2.55 2.55 2.55 -2.55 2.55zM607.5 357.0l2.55 -2.55 2.55 2.55 -2.55 2.55zM609.5 359.0l2.55 -2.55 2.55 2.55 -2.55 2.55zM609.5 357.0l2.55 -2.55 2.55 2.55 -2.55 2.55zM611.5 357.0l2.55 -2.55 2.55 2.55 -2.55 2.55zM613.6 355.0l2.55 -2.55 2.55 2.55 -2.55 2.55zM615.6 352.9l2.55 -2.55 2.55 2.55 -2.55 2.55zM615.6 350.9l2.55 -2.55 2.55 2.55 -2.55 2.55zM617.7 348.8l2.55 -2.55 2.55 2.55 -2.55 2.55zM619.7 348.8l2.55 -2.55 2.55 2.55 -2.55 2.55zM619.7 350.9l2.55 -2.55 2.55 2.55 -2.55 2.55zM621.7 350.9l2.55 -2.55 2.55 2.55 -2.55 2.55zM621.7 348.8l2.55 -2.55 2.55 2.55 -2.55 2.55zM623.8 350.9l2.55 -2.55 2.55 2.55 -2.55 2.55zM623.8 352.9l2.55 -2.55 2.55 2.55 -2.55 2.55zM625.8 346.8l2.55 -2.55 2.55 2.55 -2.55 2.55zM625.8 344.8l2.55 -2.55 2.55 2.55 -2.55 2.55zM627.9 342.7l2.55 -2.55 2.55 2.55 -2.55 2.55zM627.9 338.6l2.55 -2.55 2.55 2.55 -2.55 2.55zM629.9 338.6l2.55 -2.55 2.55 2.55 -2.55 2.55zM631.9 338.6l2.55 -2.55 2.55 2.55 -2.55 2.55zM631.9 340.7l2.55 -2.55 2.55 2.55 -2.55 2.55zM634.0 340.7l2.55 -2.55 2.55 2.55 -2.55 2.55zM636.0 326.4l2.55 -2.55 2.55 2.55 -2.55 2.55zM638.1 336.6l2.55 -2.55 2.55 2.55 -2.55 2.55zM638.1 334.6l2.55 -2.55 2.55 2.55 -2.55 2.55zM640.1 334.6l2.55 -2.55 2.55 2.55 -2.55 2.55zM640.1 332.5l2.55 -2.55 2.55 2.55 -2.55 2.55zM642.1 332.5l2.55 -2.55 2.55 2.55 -2.55 2.55zM642.1 330.5l2.55 -2.55 2.55 2.55 -2.55 2.55zM652.2 352.9l2.55 -2.55 2.55 2.55 -2.55 2.55zM654.4 355.0l2.55 -2.55 2.55 2.55 -2.55 2.55zM654.4 361.1l2.55 -2.55 2.55 2.55 -2.55 2.55zM656.4 361.1l2.55 -2.55 2.55 2.55 -2.55 2.55zM656.4 359.0l2.55 -2.55 2.55 2.55 -2.55 2.55zM658.5 359.0l2.55 -2.55 2.55 2.55 -2.55 2.55zM658.5 361.1l2.55 -2.55 2.55 2.55 -2.55 2.55zM660.5 361.1l2.55 -2.55 2.55 2.55 -2.55 2.55zM662.5 357.0l2.55 -2.55 2.55 2.55 -2.55 2.55zM662.5 359.0l2.55 -2.55 2.55 2.55 -2.55 2.55zM664.6 361.1l2.55 -2.55 2.55 2.55 -2.55 2.55zM664.6 363.1l2.55 -2.55 2.55 2.55 -2.55 2.55zM666.6 361.1l2.55 -2.55 2.55 2.55 -2.55 2.55zM668.7 359.0l2.55 -2.55 2.55 2.55 -2.55 2.55zM668.7 355.0l2.55 -2.55 2.55 2.55 -2.55 2.55zM670.7 348.8l2.55 -2.55 2.55 2.55 -2.55 2.55zM670.7 342.7l2.55 -2.55 2.55 2.55 -2.55 2.55zM670.7 344.8l2.55 -2.55 2.55 2.55 -2.55 2.55zM672.7 342.7l2.55 -2.55 2.55 2.55 -2.55 2.55zM672.7 336.6l2.55 -2.55 2.55 2.55 -2.55 2.55zM674.8 332.5l2.55 -2.55 2.55 2.55 -2.55 2.55zM674.8 330.5l2.55 -2.55 2.55 2.55 -2.55 2.55zM676.8 330.5l2.55 -2.55 2.55 2.55 -2.55 2.55zM676.8 334.6l2.55 -2.55 2.55 2.55 -2.55 2.55zM678.9 336.6l2.55 -2.55 2.55 2.55 -2.55 2.55zM680.9 338.6l2.55 -2.55 2.55 2.55 -2.55 2.55zM680.9 340.7l2.55 -2.55 2.55 2.55 -2.55 2.55zM682.9 338.6l2.55 -2.55 2.55 2.55 -2.55 2.55zM682.9 340.7l2.55 -2.55 2.55 2.55 -2.55 2.55zM685.0 338.6l2.55 -2.55 2.55 2.55 -2.55 2.55zM687.0 357.0l2.55 -2.55 2.55 2.55 -2.55 2.55zM687.0 355.0l2.55 -2.55 2.55 2.55 -2.55 2.55zM689.1 350.9l2.55 -2.55 2.55 2.55 -2.55 2.55zM689.1 352.9l2.55 -2.55 2.55 2.55 -2.55 2.55zM691.1 350.9l2.55 -2.55 2.55 2.55 -2.55 2.55zM691.1 346.8l2.55 -2.55 2.55 2.55 -2.55 2.55zM693.1 346.8l2.55 -2.55 2.55 2.55 -2.55 2.55zM693.1 344.8l2.55 -2.55 2.55 2.55 -2.55 2.55zM693.1 342.7l2.55 -2.55 2.55 2.55 -2.55 2.55zM697.2 373.3l2.55 -2.55 2.55 2.55 -2.55 2.55zM697.2 371.3l2.55 -2.55 2.55 2.55 -2.55 2.55zM697.2 367.2l2.55 -2.55 2.55 2.55 -2.55 2.55zM699.2 365.2l2.55 -2.55 2.55 2.55 -2.55 2.55zM699.2 361.1l2.55 -2.55 2.55 2.55 -2.55 2.55zM701.2 359.0l2.55 -2.55 2.55 2.55 -2.55 2.55zM701.2 355.0l2.55 -2.55 2.55 2.55 -2.55 2.55zM703.2 355.0l2.55 -2.55 2.55 2.55 -2.55 2.55zM703.2 350.9l2.55 -2.55 2.55 2.55 -2.55 2.55zM705.4 350.9l2.55 -2.55 2.55 2.55 -2.55 2.55zM705.4 346.8l2.55 -2.55 2.55 2.55 -2.55 2.55zM705.4 348.8l2.55 -2.55 2.55 2.55 -2.55 2.55zM707.4 350.9l2.55 -2.55 2.55 2.55 -2.55 2.55zM707.4 352.9l2.55 -2.55 2.55 2.55 -2.55 2.55zM709.5 350.9l2.55 -2.55 2.55 2.55 -2.55 2.55zM709.5 352.9l2.55 -2.55 2.55 2.55 -2.55 2.55zM709.5 355.0l2.55 -2.55 2.55 2.55 -2.55 2.55zM711.5 352.9l2.55 -2.55 2.55 2.55 -2.55 2.55zM711.5 355.0l2.55 -2.55 2.55 2.55 -2.55 2.55zM711.5 357.0l2.55 -2.55 2.55 2.55 -2.55 2.55zM713.5 355.0l2.55 -2.55 2.55 2.55 -2.55 2.55zM713.5 357.0l2.55 -2.55 2.55 2.55 -2.55 2.55zM715.6 357.0l2.55 -2.55 2.55 2.55 -2.55 2.55zM715.6 355.0l2.55 -2.55 2.55 2.55 -2.55 2.55zM717.6 352.9l2.55 -2.55 2.55 2.55 -2.55 2.55zM717.6 355.0l2.55 -2.55 2.55 2.55 -2.55 2.55zM719.7 350.9l2.55 -2.55 2.55 2.55 -2.55 2.55zM721.7 352.9l2.55 -2.55 2.55 2.55 -2.55 2.55zM721.7 350.9l2.55 -2.55 2.55 2.55 -2.55 2.55zM721.7 355.0l2.55 -2.55 2.55 2.55 -2.55 2.55zM723.7 355.0l2.55 -2.55 2.55 2.55 -2.55 2.55zM723.7 357.0l2.55 -2.55 2.55 2.55 -2.55 2.55zM725.8 355.0l2.55 -2.55 2.55 2.55 -2.55 2.55zM725.8 359.0l2.55 -2.55 2.55 2.55 -2.55 2.55zM727.8 355.0l2.55 -2.55 2.55 2.55 -2.55 2.55zM727.8 352.9l2.55 -2.55 2.55 2.55 -2.55 2.55zM729.9 352.9l2.55 -2.55 2.55 2.55 -2.55 2.55zM729.9 350.9l2.55 -2.55 2.55 2.55 -2.55 2.55zM731.9 352.9l2.55 -2.55 2.55 2.55 -2.55 2.55zM733.9 350.9l2.55 -2.55 2.55 2.55 -2.55 2.55zM736.0 348.8l2.55 -2.55 2.55 2.55 -2.55 2.55zM736.0 346.8l2.55 -2.55 2.55 2.55 -2.55 2.55zM738.0 350.9l2.55 -2.55 2.55 2.55 -2.55 2.55zM738.0 352.9l2.55 -2.55 2.55 2.55 -2.55 2.55zM738.0 348.8l2.55 -2.55 2.55 2.55 -2.55 2.55zM740.1 352.9l2.55 -2.55 2.55 2.55 -2.55 2.55zM740.1 355.0l2.55 -2.55 2.55 2.55 -2.55 2.55zM740.1 361.1l2.55 -2.55 2.55 2.55 -2.55 2.55zM742.1 367.2l2.55 -2.55 2.55 2.55 -2.55 2.55zM742.1 371.3l2.55 -2.55 2.55 2.55 -2.55 2.55zM748.2 359.0l2.55 -2.55 2.55 2.55 -2.55 2.55zM748.2 361.1l2.55 -2.55 2.55 2.55 -2.55 2.55zM748.2 365.2l2.55 -2.55 2.55 2.55 -2.55 2.55zM750.2 367.2l2.55 -2.55 2.55 2.55 -2.55 2.55zM750.2 365.2l2.55 -2.55 2.55 2.55 -2.55 2.55zM752.2 365.2l2.55 -2.55 2.55 2.55 -2.55 2.55zM752.2 361.1l2.55 -2.55 2.55 2.55 -2.55 2.55zM754.2 361.1l2.55 -2.55 2.55 2.55 -2.55 2.55zM754.2 359.0l2.55 -2.55 2.55 2.55 -2.55 2.55zM756.4 357.0l2.55 -2.55 2.55 2.55 -2.55 2.55zM760.5 371.3l2.55 -2.55 2.55 2.55 -2.55 2.55zM760.5 369.2l2.55 -2.55 2.55 2.55 -2.55 2.55zM760.5 367.2l2.55 -2.55 2.55 2.55 -2.55 2.55zM762.5 363.1l2.55 -2.55 2.55 2.55 -2.55 2.55zM764.5 361.1l2.55 -2.55 2.55 2.55 -2.55 2.55zM764.5 359.0l2.55 -2.55 2.55 2.55 -2.55 2.55zM764.5 357.0l2.55 -2.55 2.55 2.55 -2.55 2.55zM766.6 350.9l2.55 -2.55 2.55 2.55 -2.55 2.55zM768.6 346.8l2.55 -2.55 2.55 2.55 -2.55 2.55zM768.6 348.8l2.55 -2.55 2.55 2.55 -2.55 2.55zM768.6 344.8l2.55 -2.55 2.55 2.55 -2.55 2.55zM770.7 344.8l2.55 -2.55 2.55 2.55 -2.55 2.55zM770.7 342.7l2.55 -2.55 2.55 2.55 -2.55 2.55zM772.7 346.8l2.55 -2.55 2.55 2.55 -2.55 2.55zM774.7 352.9l2.55 -2.55 2.55 2.55 -2.55 2.55zM774.7 355.0l2.55 -2.55 2.55 2.55 -2.55 2.55zM776.8 355.0l2.55 -2.55 2.55 2.55 -2.55 2.55zM776.8 359.0l2.55 -2.55 2.55 2.55 -2.55 2.55zM776.8 361.1l2.55 -2.55 2.55 2.55 -2.55 2.55zM778.8 359.0l2.55 -2.55 2.55 2.55 -2.55 2.55zM778.8 357.0l2.55 -2.55 2.55 2.55 -2.55 2.55zM780.9 357.0l2.55 -2.55 2.55 2.55 -2.55 2.55zM780.9 359.0l2.55 -2.55 2.55 2.55 -2.55 2.55zM782.9 359.0l2.55 -2.55 2.55 2.55 -2.55 2.55zM782.9 357.0l2.55 -2.55 2.55 2.55 -2.55 2.55zM784.9 357.0l2.55 -2.55 2.55 2.55 -2.55 2.55zM784.9 359.0l2.55 -2.55 2.55 2.55 -2.55 2.55zM787.0 355.0l2.55 -2.55 2.55 2.55 -2.55 2.55zM789.0 355.0l2.55 -2.55 2.55 2.55 -2.55 2.55zM789.0 357.0l2.55 -2.55 2.55 2.55 -2.55 2.55zM791.1 357.0l2.55 -2.55 2.55 2.55 -2.55 2.55zM791.1 355.0l2.55 -2.55 2.55 2.55 -2.55 2.55zM793.1 355.0l2.55 -2.55 2.55 2.55 -2.55 2.55zM793.1 352.9l2.55 -2.55 2.55 2.55 -2.55 2.55zM795.1 352.9l2.55 -2.55 2.55 2.55 -2.55 2.55zM795.1 355.0l2.55 -2.55 2.55 2.55 -2.55 2.55zM797.2 355.0l2.55 -2.55 2.55 2.55 -2.55 2.55zM797.2 352.9l2.55 -2.55 2.55 2.55 -2.55 2.55zM799.2 352.9l2.55 -2.55 2.55 2.55 -2.55 2.55zM801.2 352.9l2.55 -2.55 2.55 2.55 -2.55 2.55zM801.2 350.9l2.55 -2.55 2.55 2.55 -2.55 2.55zM803.2 352.9l2.55 -2.55 2.55 2.55 -2.55 2.55zM803.2 357.0l2.55 -2.55 2.55 2.55 -2.55 2.55zM805.2 359.0l2.55 -2.55 2.55 2.55 -2.55 2.55zM807.4 359.0l2.55 -2.55 2.55 2.55 -2.55 2.55zM807.4 361.1l2.55 -2.55 2.55 2.55 -2.55 2.55zM809.4 355.0l2.55 -2.55 2.55 2.55 -2.55 2.55zM811.5 352.9l2.55 -2.55 2.55 2.55 -2.55 2.55zM811.5 357.0l2.55 -2.55 2.55 2.55 -2.55 2.55zM813.5 357.0l2.55 -2.55 2.55 2.55 -2.55 2.55zM813.5 355.0l2.55 -2.55 2.55 2.55 -2.55 2.55zM815.5 357.0l2.55 -2.55 2.55 2.55 -2.55 2.55zM815.5 359.0l2.55 -2.55 2.55 2.55 -2.55 2.55zM817.6 367.2l2.55 -2.55 2.55 2.55 -2.55 2.55zM817.6 369.2l2.55 -2.55 2.55 2.55 -2.55 2.55zM819.6 369.2l2.55 -2.55 2.55 2.55 -2.55 2.55zM819.6 373.3l2.55 -2.55 2.55 2.55 -2.55 2.55zM821.7 371.3l2.55 -2.55 2.55 2.55 -2.55 2.55zM821.7 348.8l2.55 -2.55 2.55 2.55 -2.55 2.55zM821.7 350.9l2.55 -2.55 2.55 2.55 -2.55 2.55zM821.7 355.0l2.55 -2.55 2.55 2.55 -2.55 2.55zM823.7 352.9l2.55 -2.55 2.55 2.55 -2.55 2.55zM823.7 359.0l2.55 -2.55 2.55 2.55 -2.55 2.55zM825.7 361.1l2.55 -2.55 2.55 2.55 -2.55 2.55zM825.7 363.1l2.55 -2.55 2.55 2.55 -2.55 2.55zM827.8 361.1l2.55 -2.55 2.55 2.55 -2.55 2.55zM827.8 357.0l2.55 -2.55 2.55 2.55 -2.55 2.55zM829.8 359.0l2.55 -2.55 2.55 2.55 -2.55 2.55zM829.8 357.0l2.55 -2.55 2.55 2.55 -2.55 2.55zM829.8 352.9l2.55 -2.55 2.55 2.55 -2.55 2.55zM831.9 352.9l2.55 -2.55 2.55 2.55 -2.55 2.55zM831.9 348.8l2.55 -2.55 2.55 2.55 -2.55 2.55zM831.9 346.8l2.55 -2.55 2.55 2.55 -2.55 2.55zM833.9 340.7l2.55 -2.55 2.55 2.55 -2.55 2.55zM833.9 342.7l2.55 -2.55 2.55 2.55 -2.55 2.55zM835.9 344.8l2.55 -2.55 2.55 2.55 -2.55 2.55zM835.9 346.8l2.55 -2.55 2.55 2.55 -2.55 2.55zM838.0 344.8l2.55 -2.55 2.55 2.55 -2.55 2.55zM838.0 348.8l2.55 -2.55 2.55 2.55 -2.55 2.55zM840.0 352.9l2.55 -2.55 2.55 2.55 -2.55 2.55zM840.0 348.8l2.55 -2.55 2.55 2.55 -2.55 2.55zM840.0 350.9l2.55 -2.55 2.55 2.55 -2.55 2.55zM842.1 350.9l2.55 -2.55 2.55 2.55 -2.55 2.55zM842.1 352.9l2.55 -2.55 2.55 2.55 -2.55 2.55zM844.1 350.9l2.55 -2.55 2.55 2.55 -2.55 2.55zM844.1 355.0l2.55 -2.55 2.55 2.55 -2.55 2.55zM846.1 352.9l2.55 -2.55 2.55 2.55 -2.55 2.55zM846.1 357.0l2.55 -2.55 2.55 2.55 -2.55 2.55zM846.1 359.0l2.55 -2.55 2.55 2.55 -2.55 2.55zM848.2 359.0l2.55 -2.55 2.55 2.55 -2.55 2.55zM850.2 357.0l2.55 -2.55 2.55 2.55 -2.55 2.55zM850.2 359.0l2.55 -2.55 2.55 2.55 -2.55 2.55zM852.2 357.0l2.55 -2.55 2.55 2.55 -2.55 2.55zM854.2 355.0l2.55 -2.55 2.55 2.55 -2.55 2.55zM854.2 352.9l2.55 -2.55 2.55 2.55 -2.55 2.55zM856.2 357.0l2.55 -2.55 2.55 2.55 -2.55 2.55zM858.4 357.0l2.55 -2.55 2.55 2.55 -2.55 2.55zM858.4 355.0l2.55 -2.55 2.55 2.55 -2.55 2.55zM858.4 359.0l2.55 -2.55 2.55 2.55 -2.55 2.55zM860.4 359.0l2.55 -2.55 2.55 2.55 -2.55 2.55zM862.5 359.0l2.55 -2.55 2.55 2.55 -2.55 2.55zM862.5 357.0l2.55 -2.55 2.55 2.55 -2.55 2.55zM864.5 357.0l2.55 -2.55 2.55 2.55 -2.55 2.55zM864.5 359.0l2.55 -2.55 2.55 2.55 -2.55 2.55zM866.5 361.1l2.55 -2.55 2.55 2.55 -2.55 2.55zM866.5 363.1l2.55 -2.55 2.55 2.55 -2.55 2.55zM868.6 367.2l2.55 -2.55 2.55 2.55 -2.55 2.55zM868.6 365.2l2.55 -2.55 2.55 2.55 -2.55 2.55zM870.6 369.2l2.55 -2.55 2.55 2.55 -2.55 2.55zM870.6 367.2l2.55 -2.55 2.55 2.55 -2.55 2.55zM872.7 367.2l2.55 -2.55 2.55 2.55 -2.55 2.55zM874.7 367.2l2.55 -2.55 2.55 2.55 -2.55 2.55zM874.7 369.2l2.55 -2.55 2.55 2.55 -2.55 2.55zM876.7 367.2l2.55 -2.55 2.55 2.55 -2.55 2.55zM876.7 369.2l2.55 -2.55 2.55 2.55 -2.55 2.55zM878.8 367.2l2.55 -2.55 2.55 2.55 -2.55 2.55zM878.8 365.2l2.55 -2.55 2.55 2.55 -2.55 2.55zM878.8 361.1l2.55 -2.55 2.55 2.55 -2.55 2.55zM880.8 361.1l2.55 -2.55 2.55 2.55 -2.55 2.55zM880.8 359.0l2.55 -2.55 2.55 2.55 -2.55 2.55zM880.8 357.0l2.55 -2.55 2.55 2.55 -2.55 2.55zM882.9 355.0l2.55 -2.55 2.55 2.55 -2.55 2.55zM882.9 350.9l2.55 -2.55 2.55 2.55 -2.55 2.55zM884.9 350.9l2.55 -2.55 2.55 2.55 -2.55 2.55zM884.9 348.8l2.55 -2.55 2.55 2.55 -2.55 2.55zM886.9 352.9l2.55 -2.55 2.55 2.55 -2.55 2.55zM886.9 357.0l2.55 -2.55 2.55 2.55 -2.55 2.55zM889.0 357.0l2.55 -2.55 2.55 2.55 -2.55 2.55zM891.0 359.0l2.55 -2.55 2.55 2.55 -2.55 2.55zM893.1 363.1l2.55 -2.55 2.55 2.55 -2.55 2.55zM893.1 361.1l2.55 -2.55 2.55 2.55 -2.55 2.55zM895.1 361.1l2.55 -2.55 2.55 2.55 -2.55 2.55zM895.1 357.0l2.55 -2.55 2.55 2.55 -2.55 2.55zM895.1 359.0l2.55 -2.55 2.55 2.55 -2.55 2.55zM897.1 363.1l2.55 -2.55 2.55 2.55 -2.55 2.55zM897.1 359.0l2.55 -2.55 2.55 2.55 -2.55 2.55zM899.2 363.1l2.55 -2.55 2.55 2.55 -2.55 2.55zM901.2 365.2l2.55 -2.55 2.55 2.55 -2.55 2.55zM901.2 359.0l2.55 -2.55 2.55 2.55 -2.55 2.55zM901.2 361.1l2.55 -2.55 2.55 2.55 -2.55 2.55zM903.2 359.0l2.55 -2.55 2.55 2.55 -2.55 2.55zM905.2 357.0l2.55 -2.55 2.55 2.55 -2.55 2.55zM905.2 355.0l2.55 -2.55 2.55 2.55 -2.55 2.55zM907.2 355.0l2.55 -2.55 2.55 2.55 -2.55 2.55zM907.2 352.9l2.55 -2.55 2.55 2.55 -2.55 2.55zM907.2 350.9l2.55 -2.55 2.55 2.55 -2.55 2.55zM909.4 352.9l2.55 -2.55 2.55 2.55 -2.55 2.55zM909.4 350.9l2.55 -2.55 2.55 2.55 -2.55 2.55zM909.4 348.8l2.55 -2.55 2.55 2.55 -2.55 2.55zM911.4 344.8l2.55 -2.55 2.55 2.55 -2.55 2.55zM911.4 342.7l2.55 -2.55 2.55 2.55 -2.55 2.55zM913.5 336.6l2.55 -2.55 2.55 2.55 -2.55 2.55zM913.5 332.5l2.55 -2.55 2.55 2.55 -2.55 2.55zM913.5 330.5l2.55 -2.55 2.55 2.55 -2.55 2.55zM915.5 324.4l2.55 -2.55 2.55 2.55 -2.55 2.55zM915.5 322.3l2.55 -2.55 2.55 2.55 -2.55 2.55zM917.5 322.3l2.55 -2.55 2.55 2.55 -2.55 2.55zM917.5 326.4l2.55 -2.55 2.55 2.55 -2.55 2.55zM917.5 328.4l2.55 -2.55 2.55 2.55 -2.55 2.55zM919.6 328.4l2.55 -2.55 2.55 2.55 -2.55 2.55zM919.6 334.6l2.55 -2.55 2.55 2.55 -2.55 2.55zM921.6 342.7l2.55 -2.55 2.55 2.55 -2.55 2.55zM923.7 342.7l2.55 -2.55 2.55 2.55 -2.55 2.55zM923.7 344.8l2.55 -2.55 2.55 2.55 -2.55 2.55zM925.7 346.8l2.55 -2.55 2.55 2.55 -2.55 2.55zM925.7 344.8l2.55 -2.55 2.55 2.55 -2.55 2.55zM927.7 346.8l2.55 -2.55 2.55 2.55 -2.55 2.55zM927.7 348.8l2.55 -2.55 2.55 2.55 -2.55 2.55zM929.8 348.8l2.55 -2.55 2.55 2.55 -2.55 2.55zM929.8 346.8l2.55 -2.55 2.55 2.55 -2.55 2.55zM931.8 348.8l2.55 -2.55 2.55 2.55 -2.55 2.55zM931.8 324.4l2.55 -2.55 2.55 2.55 -2.55 2.55zM933.9 328.4l2.55 -2.55 2.55 2.55 -2.55 2.55zM933.9 326.4l2.55 -2.55 2.55 2.55 -2.55 2.55zM935.9 330.5l2.55 -2.55 2.55 2.55 -2.55 2.55zM935.9 328.4l2.55 -2.55 2.55 2.55 -2.55 2.55zM937.9 332.5l2.55 -2.55 2.55 2.55 -2.55 2.55zM937.9 334.6l2.55 -2.55 2.55 2.55 -2.55 2.55zM937.9 338.6l2.55 -2.55 2.55 2.55 -2.55 2.55zM940.0 338.6l2.55 -2.55 2.55 2.55 -2.55 2.55zM942.0 340.7l2.55 -2.55 2.55 2.55 -2.55 2.55zM942.0 342.7l2.55 -2.55 2.55 2.55 -2.55 2.55zM942.0 344.8l2.55 -2.55 2.55 2.55 -2.55 2.55zM944.1 346.8l2.55 -2.55 2.55 2.55 -2.55 2.55zM944.1 344.8l2.55 -2.55 2.55 2.55 -2.55 2.55zM946.1 342.7l2.55 -2.55 2.55 2.55 -2.55 2.55zM946.1 338.6l2.55 -2.55 2.55 2.55 -2.55 2.55zM948.1 338.6l2.55 -2.55 2.55 2.55 -2.55 2.55zM948.1 336.6l2.55 -2.55 2.55 2.55 -2.55 2.55zM950.2 340.7l2.55 -2.55 2.55 2.55 -2.55 2.55zM952.2 342.7l2.55 -2.55 2.55 2.55 -2.55 2.55zM952.2 344.8l2.55 -2.55 2.55 2.55 -2.55 2.55zM954.2 348.8l2.55 -2.55 2.55 2.55 -2.55 2.55zM954.2 352.9l2.55 -2.55 2.55 2.55 -2.55 2.55zM954.2 355.0l2.55 -2.55 2.55 2.55 -2.55 2.55zM956.2 359.0l2.55 -2.55 2.55 2.55 -2.55 2.55zM956.2 363.1l2.55 -2.55 2.55 2.55 -2.55 2.55zM958.2 363.1l2.55 -2.55 2.55 2.55 -2.55 2.55zM958.2 365.2l2.55 -2.55 2.55 2.55 -2.55 2.55zM960.4 365.2l2.55 -2.55 2.55 2.55 -2.55 2.55zM960.4 367.2l2.55 -2.55 2.55 2.55 -2.55 2.55zM962.4 367.2l2.55 -2.55 2.55 2.55 -2.55 2.55zM968.5 363.1l2.55 -2.55 2.55 2.55 -2.55 2.55zM968.5 359.0l2.55 -2.55 2.55 2.55 -2.55 2.55zM968.5 361.1l2.55 -2.55 2.55 2.55 -2.55 2.55zM970.6 361.1l2.55 -2.55 2.55 2.55 -2.55 2.55zM970.6 363.1l2.55 -2.55 2.55 2.55 -2.55 2.55zM972.6 361.1l2.55 -2.55 2.55 2.55 -2.55 2.55zM972.6 363.1l2.55 -2.55 2.55 2.55 -2.55 2.55zM972.6 365.2l2.55 -2.55 2.55 2.55 -2.55 2.55zM974.7 367.2l2.55 -2.55 2.55 2.55 -2.55 2.55zM974.7 365.2l2.55 -2.55 2.55 2.55 -2.55 2.55zM976.7 365.2l2.55 -2.55 2.55 2.55 -2.55 2.55zM976.7 363.1l2.55 -2.55 2.55 2.55 -2.55 2.55zM978.7 361.1l2.55 -2.55 2.55 2.55 -2.55 2.55zM978.7 365.2l2.55 -2.55 2.55 2.55 -2.55 2.55zM980.8 363.1l2.55 -2.55 2.55 2.55 -2.55 2.55zM988.9 340.7l2.55 -2.55 2.55 2.55 -2.55 2.55zM991.0 340.7l2.55 -2.55 2.55 2.55 -2.55 2.55zM991.0 336.6l2.55 -2.55 2.55 2.55 -2.55 2.55zM993.0 334.6l2.55 -2.55 2.55 2.55 -2.55 2.55zM995.1 334.6l2.55 -2.55 2.55 2.55 -2.55 2.55zM995.1 330.5l2.55 -2.55 2.55 2.55 -2.55 2.55zM995.1 328.4l2.55 -2.55 2.55 2.55 -2.55 2.55zM997.1 322.3l2.55 -2.55 2.55 2.55 -2.55 2.55zM997.1 344.8l2.55 -2.55 2.55 2.55 -2.55 2.55zM997.1 346.8l2.55 -2.55 2.55 2.55 -2.55 2.55zM999.1 348.8l2.55 -2.55 2.55 2.55 -2.55 2.55zM999.1 350.9l2.55 -2.55 2.55 2.55 -2.55 2.55zM1001.2 352.9l2.55 -2.55 2.55 2.55 -2.55 2.55zM1001.2 350.9l2.55 -2.55 2.55 2.55 -2.55 2.55zM1003.2 355.0l2.55 -2.55 2.55 2.55 -2.55 2.55zM1005.2 340.7l2.55 -2.55 2.55 2.55 -2.55 2.55zM1007.2 340.7l2.55 -2.55 2.55 2.55 -2.55 2.55zM1007.2 342.7l2.55 -2.55 2.55 2.55 -2.55 2.55zM1009.2 338.6l2.55 -2.55 2.55 2.55 -2.55 2.55zM1009.2 334.6l2.55 -2.55 2.55 2.55 -2.55 2.55zM1011.4 330.5l2.55 -2.55 2.55 2.55 -2.55 2.55zM1011.4 332.5l2.55 -2.55 2.55 2.55 -2.55 2.55zM1013.4 332.5l2.55 -2.55 2.55 2.55 -2.55 2.55zM1013.4 334.6l2.55 -2.55 2.55 2.55 -2.55 2.55zM1013.4 336.6l2.55 -2.55 2.55 2.55 -2.55 2.55zM1015.5 338.6l2.55 -2.55 2.55 2.55 -2.55 2.55zM1015.5 340.7l2.55 -2.55 2.55 2.55 -2.55 2.55zM1015.5 344.8l2.55 -2.55 2.55 2.55 -2.55 2.55zM1017.5 346.8l2.55 -2.55 2.55 2.55 -2.55 2.55zM1017.5 348.8l2.55 -2.55 2.55 2.55 -2.55 2.55zM1017.5 352.9l2.55 -2.55 2.55 2.55 -2.55 2.55zM1019.5 350.9l2.55 -2.55 2.55 2.55 -2.55 2.55zM1019.5 348.8l2.55 -2.55 2.55 2.55 -2.55 2.55zM1021.5 346.8l2.55 -2.55 2.55 2.55 -2.55 2.55zM1021.5 344.8l2.55 -2.55 2.55 2.55 -2.55 2.55zM1023.5 342.7l2.55 -2.55 2.55 2.55 -2.55 2.55zM1023.5 340.7l2.55 -2.55 2.55 2.55 -2.55 2.55zM1025.7 340.7l2.55 -2.55 2.55 2.55 -2.55 2.55zM1025.7 342.7l2.55 -2.55 2.55 2.55 -2.55 2.55zM1027.7 338.6l2.55 -2.55 2.55 2.55 -2.55 2.55zM1027.7 336.6l2.55 -2.55 2.55 2.55 -2.55 2.55zM1029.7 334.6l2.55 -2.55 2.55 2.55 -2.55 2.55zM1029.7 332.5l2.55 -2.55 2.55 2.55 -2.55 2.55zM1029.7 330.5l2.55 -2.55 2.55 2.55 -2.55 2.55zM1031.8 326.4l2.55 -2.55 2.55 2.55 -2.55 2.55zM1031.8 322.3l2.55 -2.55 2.55 2.55 -2.55 2.55zM1033.8 322.3l2.55 -2.55 2.55 2.55 -2.55 2.55zM1035.9 326.4l2.55 -2.55 2.55 2.55 -2.55 2.55zM1035.9 330.5l2.55 -2.55 2.55 2.55 -2.55 2.55zM1035.9 328.4l2.55 -2.55 2.55 2.55 -2.55 2.55zM1035.9 332.5l2.55 -2.55 2.55 2.55 -2.55 2.55zM1037.9 338.6l2.55 -2.55 2.55 2.55 -2.55 2.55zM1037.9 365.2l2.55 -2.55 2.55 2.55 -2.55 2.55zM1039.9 359.0l2.55 -2.55 2.55 2.55 -2.55 2.55zM1042.0 361.1l2.55 -2.55 2.55 2.55 -2.55 2.55zM1042.0 359.0l2.55 -2.55 2.55 2.55 -2.55 2.55zM1042.0 357.0l2.55 -2.55 2.55 2.55 -2.55 2.55zM1044.0 357.0l2.55 -2.55 2.55 2.55 -2.55 2.55zM1044.0 350.9l2.55 -2.55 2.55 2.55 -2.55 2.55zM1046.0 350.9l2.55 -2.55 2.55 2.55 -2.55 2.55zM1048.0 350.9l2.55 -2.55 2.55 2.55 -2.55 2.55zM1048.0 348.8l2.55 -2.55 2.55 2.55 -2.55 2.55zM1050.0 346.8l2.55 -2.55 2.55 2.55 -2.55 2.55zM1050.0 348.8l2.55 -2.55 2.55 2.55 -2.55 2.55zM1052.2 346.8l2.55 -2.55 2.55 2.55 -2.55 2.55zM1052.2 344.8l2.55 -2.55 2.55 2.55 -2.55 2.55zM1054.2 348.8l2.55 -2.55 2.55 2.55 -2.55 2.55zM1054.2 350.9l2.55 -2.55 2.55 2.55 -2.55 2.55zM1056.2 350.9l2.55 -2.55 2.55 2.55 -2.55 2.55zM1058.2 350.9l2.55 -2.55 2.55 2.55 -2.55 2.55zM1058.2 352.9l2.55 -2.55 2.55 2.55 -2.55 2.55zM1060.2 350.9l2.55 -2.55 2.55 2.55 -2.55 2.55zM1060.2 352.9l2.55 -2.55 2.55 2.55 -2.55 2.55zM1062.4 346.8l2.55 -2.55 2.55 2.55 -2.55 2.55zM1062.4 350.9l2.55 -2.55 2.55 2.55 -2.55 2.55zM1064.4 348.8l2.55 -2.55 2.55 2.55 -2.55 2.55zM1064.4 346.8l2.55 -2.55 2.55 2.55 -2.55 2.55zM1066.5 348.8l2.55 -2.55 2.55 2.55 -2.55 2.55zM1068.5 348.8l2.55 -2.55 2.55 2.55 -2.55 2.55zM1068.5 350.9l2.55 -2.55 2.55 2.55 -2.55 2.55zM1070.5 346.8l2.55 -2.55 2.55 2.55 -2.55 2.55zM1070.5 344.8l2.55 -2.55 2.55 2.55 -2.55 2.55zM1072.5 344.8l2.55 -2.55 2.55 2.55 -2.55 2.55zM1074.5 344.8l2.55 -2.55 2.55 2.55 -2.55 2.55zM1074.5 346.8l2.55 -2.55 2.55 2.55 -2.55 2.55zM1076.7 346.8l2.55 -2.55 2.55 2.55 -2.55 2.55zM1076.7 350.9l2.55 -2.55 2.55 2.55 -2.55 2.55zM1078.7 350.9l2.55 -2.55 2.55 2.55 -2.55 2.55zM1078.7 355.0l2.55 -2.55 2.55 2.55 -2.55 2.55zM1080.7 352.9l2.55 -2.55 2.55 2.55 -2.55 2.55zM1080.7 355.0l2.55 -2.55 2.55 2.55 -2.55 2.55zM1080.7 357.0l2.55 -2.55 2.55 2.55 -2.55 2.55zM1082.8 355.0l2.55 -2.55 2.55 2.55 -2.55 2.55zM1082.8 357.0l2.55 -2.55 2.55 2.55 -2.55 2.55zM1084.8 357.0l2.55 -2.55 2.55 2.55 -2.55 2.55zM1084.8 359.0l2.55 -2.55 2.55 2.55 -2.55 2.55zM1086.9 359.0l2.55 -2.55 2.55 2.55 -2.55 2.55zM1086.9 357.0l2.55 -2.55 2.55 2.55 -2.55 2.55zM1086.9 361.1l2.55 -2.55 2.55 2.55 -2.55 2.55zM1088.9 359.0l2.55 -2.55 2.55 2.55 -2.55 2.55zM1088.9 363.1l2.55 -2.55 2.55 2.55 -2.55 2.55zM1090.9 359.0l2.55 -2.55 2.55 2.55 -2.55 2.55zM1090.9 357.0l2.55 -2.55 2.55 2.55 -2.55 2.55zM1090.9 355.0l2.55 -2.55 2.55 2.55 -2.55 2.55zM1093.0 355.0l2.55 -2.55 2.55 2.55 -2.55 2.55zM1093.0 357.0l2.55 -2.55 2.55 2.55 -2.55 2.55zM1095.0 359.0l2.55 -2.55 2.55 2.55 -2.55 2.55zM1097.0 355.0l2.55 -2.55 2.55 2.55 -2.55 2.55zM1097.0 359.0l2.55 -2.55 2.55 2.55 -2.55 2.55zM1097.0 357.0l2.55 -2.55 2.55 2.55 -2.55 2.55zM1099.0 355.0l2.55 -2.55 2.55 2.55 -2.55 2.55zM1099.0 357.0l2.55 -2.55 2.55 2.55 -2.55 2.55zM1101.0 355.0l2.55 -2.55 2.55 2.55 -2.55 2.55zM1101.0 352.9l2.55 -2.55 2.55 2.55 -2.55 2.55zM1103.2 355.0l2.55 -2.55 2.55 2.55 -2.55 2.55zM1103.2 359.0l2.55 -2.55 2.55 2.55 -2.55 2.55zM1105.2 361.1l2.55 -2.55 2.55 2.55 -2.55 2.55zM1105.2 365.2l2.55 -2.55 2.55 2.55 -2.55 2.55zM1105.2 367.2l2.55 -2.55 2.55 2.55 -2.55 2.55zM1107.2 367.2l2.55 -2.55 2.55 2.55 -2.55 2.55zM1107.2 371.3l2.55 -2.55 2.55 2.55 -2.55 2.55zM1107.2 373.3l2.55 -2.55 2.55 2.55 -2.55 2.55zM1109.2 340.7l2.55 -2.55 2.55 2.55 -2.55 2.55zM1109.2 342.7l2.55 -2.55 2.55 2.55 -2.55 2.55zM1111.2 342.7l2.55 -2.55 2.55 2.55 -2.55 2.55zM1111.2 340.7l2.55 -2.55 2.55 2.55 -2.55 2.55zM83.2 285.6l2.55 -2.55 2.55 2.55 -2.55 2.55zM81.0 299.9l2.55 -2.55 2.55 2.55 -2.55 2.55zM83.2 299.9l2.55 -2.55 2.55 2.55 -2.55 2.55zM162.6 224.4l2.55 -2.55 2.55 2.55 -2.55 2.55zM162.6 232.6l2.55 -2.55 2.55 2.55 -2.55 2.55zM164.8 242.8l2.55 -2.55 2.55 2.55 -2.55 2.55zM166.8 242.8l2.55 -2.55 2.55 2.55 -2.55 2.55zM166.8 265.2l2.55 -2.55 2.55 2.55 -2.55 2.55zM168.8 301.9l2.55 -2.55 2.55 2.55 -2.55 2.55zM242.2 246.8l2.55 -2.55 2.55 2.55 -2.55 2.55zM244.2 248.9l2.55 -2.55 2.55 2.55 -2.55 2.55zM248.3 246.8l2.55 -2.55 2.55 2.55 -2.55 2.55zM285.1 283.6l2.55 -2.55 2.55 2.55 -2.55 2.55zM285.1 287.6l2.55 -2.55 2.55 2.55 -2.55 2.55zM287.1 291.7l2.55 -2.55 2.55 2.55 -2.55 2.55zM287.1 297.8l2.55 -2.55 2.55 2.55 -2.55 2.55zM289.1 301.9l2.55 -2.55 2.55 2.55 -2.55 2.55zM289.1 308.0l2.55 -2.55 2.55 2.55 -2.55 2.55zM289.1 312.1l2.55 -2.55 2.55 2.55 -2.55 2.55zM291.2 322.3l2.55 -2.55 2.55 2.55 -2.55 2.55zM291.2 326.4l2.55 -2.55 2.55 2.55 -2.55 2.55zM291.2 330.5l2.55 -2.55 2.55 2.55 -2.55 2.55zM293.2 342.7l2.55 -2.55 2.55 2.55 -2.55 2.55zM252.4 373.3l2.55 -2.55 2.55 2.55 -2.55 2.55zM254.4 373.3l2.55 -2.55 2.55 2.55 -2.55 2.55zM256.6 373.3l2.55 -2.55 2.55 2.55 -2.55 2.55zM281.1 304.0l2.55 -2.55 2.55 2.55 -2.55 2.55zM278.9 299.9l2.55 -2.55 2.55 2.55 -2.55 2.55zM460.6 314.2l2.55 -2.55 2.55 2.55 -2.55 2.55zM462.6 320.3l2.55 -2.55 2.55 2.55 -2.55 2.55zM462.6 326.4l2.55 -2.55 2.55 2.55 -2.55 2.55zM464.6 334.6l2.55 -2.55 2.55 2.55 -2.55 2.55zM462.6 342.7l2.55 -2.55 2.55 2.55 -2.55 2.55zM466.6 342.7l2.55 -2.55 2.55 2.55 -2.55 2.55zM527.9 359.0l2.55 -2.55 2.55 2.55 -2.55 2.55zM529.9 357.0l2.55 -2.55 2.55 2.55 -2.55 2.55zM636.0 350.9l2.55 -2.55 2.55 2.55 -2.55 2.55zM644.2 314.2l2.55 -2.55 2.55 2.55 -2.55 2.55zM646.2 301.9l2.55 -2.55 2.55 2.55 -2.55 2.55zM646.2 310.1l2.55 -2.55 2.55 2.55 -2.55 2.55zM648.2 304.0l2.55 -2.55 2.55 2.55 -2.55 2.55zM650.2 312.1l2.55 -2.55 2.55 2.55 -2.55 2.55zM650.2 314.2l2.55 -2.55 2.55 2.55 -2.55 2.55zM642.1 334.6l2.55 -2.55 2.55 2.55 -2.55 2.55zM644.2 330.5l2.55 -2.55 2.55 2.55 -2.55 2.55zM682.9 344.8l2.55 -2.55 2.55 2.55 -2.55 2.55zM682.9 346.8l2.55 -2.55 2.55 2.55 -2.55 2.55zM674.8 334.6l2.55 -2.55 2.55 2.55 -2.55 2.55zM676.8 332.5l2.55 -2.55 2.55 2.55 -2.55 2.55zM744.1 346.8l2.55 -2.55 2.55 2.55 -2.55 2.55zM752.2 367.2l2.55 -2.55 2.55 2.55 -2.55 2.55zM862.5 344.8l2.55 -2.55 2.55 2.55 -2.55 2.55zM864.5 348.8l2.55 -2.55 2.55 2.55 -2.55 2.55zM899.2 361.1l2.55 -2.55 2.55 2.55 -2.55 2.55zM901.2 363.1l2.55 -2.55 2.55 2.55 -2.55 2.55zM899.2 365.2l2.55 -2.55 2.55 2.55 -2.55 2.55zM921.6 344.8l2.55 -2.55 2.55 2.55 -2.55 2.55zM962.4 361.1l2.55 -2.55 2.55 2.55 -2.55 2.55zM978.7 359.0l2.55 -2.55 2.55 2.55 -2.55 2.55zM976.7 346.8l2.55 -2.55 2.55 2.55 -2.55 2.55zM976.7 350.9l2.55 -2.55 2.55 2.55 -2.55 2.55zM988.9 350.9l2.55 -2.55 2.55 2.55 -2.55 2.55zM511.6 61.2l2.55 -2.55 2.55 2.55 -2.55 2.55zM511.6 69.4l2.55 -2.55 2.55 2.55 -2.55 2.55zM532.0 61.2l2.55 -2.55 2.55 2.55 -2.55 2.55zM538.1 63.2l2.55 -2.55 2.55 2.55 -2.55 2.55zM538.1 67.3l2.55 -2.55 2.55 2.55 -2.55 2.55zM538.1 73.4l2.55 -2.55 2.55 2.55 -2.55 2.55zM695.2 63.2l2.55 -2.55 2.55 2.55 -2.55 2.55zM693.1 69.4l2.55 -2.55 2.55 2.55 -2.55 2.55zM742.1 65.3l2.55 -2.55 2.55 2.55 -2.55 2.55zM742.1 71.4l2.55 -2.55 2.55 2.55 -2.55 2.55zM744.1 75.5l2.55 -2.55 2.55 2.55 -2.55 2.55zM746.2 89.8l2.55 -2.55 2.55 2.55 -2.55 2.55zM756.4 83.6l2.55 -2.55 2.55 2.55 -2.55 2.55zM758.4 73.4l2.55 -2.55 2.55 2.55 -2.55 2.55zM758.4 69.4l2.55 -2.55 2.55 2.55 -2.55 2.55zM760.5 65.3l2.55 -2.55 2.55 2.55 -2.55 2.55zM1107.2 61.2l2.55 -2.55 2.55 2.55 -2.55 2.55zM1111.2 63.2l2.55 -2.55 2.55 2.55 -2.55 2.55zM1113.4 63.2l2.55 -2.55 2.55 2.55 -2.55 2.55z"/>
<g stroke="#000" stroke-width="1.25" fill="none">
<line x1="58.9" y1="59.4" x2="58.9" y2="374.7"/>
<line x1="1116.5" y1="59.4" x2="1116.5" y2="374.7"/>
<line x1="58.1" y1="373.9" x2="1117.3" y2="373.9"/>
</g>
<g stroke="#000" stroke-width="1.3" fill="none"><line x1="58.9" y1="61.2" x2="62.5" y2="61.2"/><line x1="1112.9" y1="61.2" x2="1116.5" y2="61.2"/><line x1="58.9" y1="100.3" x2="62.5" y2="100.3"/><line x1="1112.9" y1="100.3" x2="1116.5" y2="100.3"/><line x1="58.9" y1="139.4" x2="62.5" y2="139.4"/><line x1="1112.9" y1="139.4" x2="1116.5" y2="139.4"/><line x1="58.9" y1="178.4" x2="62.5" y2="178.4"/><line x1="1112.9" y1="178.4" x2="1116.5" y2="178.4"/><line x1="58.9" y1="217.5" x2="62.5" y2="217.5"/><line x1="1112.9" y1="217.5" x2="1116.5" y2="217.5"/><line x1="58.9" y1="256.6" x2="62.5" y2="256.6"/><line x1="1112.9" y1="256.6" x2="1116.5" y2="256.6"/><line x1="58.9" y1="295.7" x2="62.5" y2="295.7"/><line x1="1112.9" y1="295.7" x2="1116.5" y2="295.7"/><line x1="58.9" y1="334.8" x2="62.5" y2="334.8"/><line x1="1112.9" y1="334.8" x2="1116.5" y2="334.8"/><line x1="58.9" y1="373.8" x2="62.5" y2="373.8"/><line x1="1112.9" y1="373.8" x2="1116.5" y2="373.8"/><line x1="66.0" y1="373.9" x2="66.0" y2="370.09999999999997"/><line x1="88.0" y1="373.9" x2="88.0" y2="371.5"/><line x1="110.1" y1="373.9" x2="110.1" y2="370.09999999999997"/><line x1="132.1" y1="373.9" x2="132.1" y2="371.5"/><line x1="154.2" y1="373.9" x2="154.2" y2="370.09999999999997"/><line x1="176.2" y1="373.9" x2="176.2" y2="371.5"/><line x1="198.2" y1="373.9" x2="198.2" y2="370.09999999999997"/><line x1="220.3" y1="373.9" x2="220.3" y2="371.5"/><line x1="242.3" y1="373.9" x2="242.3" y2="370.09999999999997"/><line x1="264.4" y1="373.9" x2="264.4" y2="371.5"/><line x1="286.4" y1="373.9" x2="286.4" y2="370.09999999999997"/><line x1="308.4" y1="373.9" x2="308.4" y2="371.5"/><line x1="330.5" y1="373.9" x2="330.5" y2="370.09999999999997"/><line x1="352.5" y1="373.9" x2="352.5" y2="371.5"/><line x1="374.6" y1="373.9" x2="374.6" y2="370.09999999999997"/><line x1="396.6" y1="373.9" x2="396.6" y2="371.5"/><line x1="418.6" y1="373.9" x2="418.6" y2="370.09999999999997"/><line x1="440.7" y1="373.9" x2="440.7" y2="371.5"/><line x1="462.7" y1="373.9" x2="462.7" y2="370.09999999999997"/><line x1="484.8" y1="373.9" x2="484.8" y2="371.5"/><line x1="506.8" y1="373.9" x2="506.8" y2="370.09999999999997"/><line x1="528.8" y1="373.9" x2="528.8" y2="371.5"/><line x1="550.9" y1="373.9" x2="550.9" y2="370.09999999999997"/><line x1="572.9" y1="373.9" x2="572.9" y2="371.5"/><line x1="595.0" y1="373.9" x2="595.0" y2="370.09999999999997"/><line x1="617.0" y1="373.9" x2="617.0" y2="371.5"/><line x1="639.0" y1="373.9" x2="639.0" y2="370.09999999999997"/><line x1="661.1" y1="373.9" x2="661.1" y2="371.5"/><line x1="683.1" y1="373.9" x2="683.1" y2="370.09999999999997"/><line x1="705.2" y1="373.9" x2="705.2" y2="371.5"/><line x1="727.2" y1="373.9" x2="727.2" y2="370.09999999999997"/><line x1="749.2" y1="373.9" x2="749.2" y2="371.5"/><line x1="771.3" y1="373.9" x2="771.3" y2="370.09999999999997"/><line x1="793.3" y1="373.9" x2="793.3" y2="371.5"/><line x1="815.4" y1="373.9" x2="815.4" y2="370.09999999999997"/><line x1="837.4" y1="373.9" x2="837.4" y2="371.5"/><line x1="859.4" y1="373.9" x2="859.4" y2="370.09999999999997"/><line x1="881.5" y1="373.9" x2="881.5" y2="371.5"/><line x1="903.5" y1="373.9" x2="903.5" y2="370.09999999999997"/><line x1="925.6" y1="373.9" x2="925.6" y2="371.5"/><line x1="947.6" y1="373.9" x2="947.6" y2="370.09999999999997"/><line x1="969.6" y1="373.9" x2="969.6" y2="371.5"/><line x1="991.7" y1="373.9" x2="991.7" y2="370.09999999999997"/><line x1="1013.7" y1="373.9" x2="1013.7" y2="371.5"/><line x1="1035.8" y1="373.9" x2="1035.8" y2="370.09999999999997"/><line x1="1057.8" y1="373.9" x2="1057.8" y2="371.5"/><line x1="1079.8" y1="373.9" x2="1079.8" y2="370.09999999999997"/><line x1="1101.9" y1="373.9" x2="1101.9" y2="371.5"/></g>
<g class="ll"><text x="48.6" y="68.3" text-anchor="end" textLength="10.0" lengthAdjust="spacingAndGlyphs">N</text><text x="48.6" y="107.4" text-anchor="end" textLength="19.6" lengthAdjust="spacingAndGlyphs">NW</text><text x="48.6" y="146.5" text-anchor="end" textLength="10.0" lengthAdjust="spacingAndGlyphs">W</text><text x="48.6" y="185.5" text-anchor="end" textLength="19.6" lengthAdjust="spacingAndGlyphs">SW</text><text x="48.6" y="224.6" text-anchor="end" textLength="10.0" lengthAdjust="spacingAndGlyphs">S</text><text x="48.6" y="263.7" text-anchor="end" textLength="19.6" lengthAdjust="spacingAndGlyphs">SE</text><text x="48.6" y="302.8" text-anchor="end" textLength="10.0" lengthAdjust="spacingAndGlyphs">E</text><text x="48.6" y="341.9" text-anchor="end" textLength="19.6" lengthAdjust="spacingAndGlyphs">NE</text><text x="48.6" y="380.9" text-anchor="end" textLength="10.0" lengthAdjust="spacingAndGlyphs">N</text></g>
<g class="rl"><text x="1120.3" y="68.8" textLength="19.3" lengthAdjust="spacingAndGlyphs">北</text><text x="1120.3" y="107.9" textLength="38.6" lengthAdjust="spacingAndGlyphs">西北</text><text x="1120.3" y="147.0" textLength="19.3" lengthAdjust="spacingAndGlyphs">西</text><text x="1120.3" y="186.0" textLength="38.6" lengthAdjust="spacingAndGlyphs">西南</text><text x="1120.3" y="225.1" textLength="19.3" lengthAdjust="spacingAndGlyphs">南</text><text x="1120.3" y="264.2" textLength="38.6" lengthAdjust="spacingAndGlyphs">東南</text><text x="1120.3" y="303.3" textLength="19.3" lengthAdjust="spacingAndGlyphs">東</text><text x="1120.3" y="342.4" textLength="38.6" lengthAdjust="spacingAndGlyphs">東北</text><text x="1120.3" y="381.4" textLength="19.3" lengthAdjust="spacingAndGlyphs">北</text></g>
</g>
<g class="xl"><text x="62.5" y="393.5" text-anchor="middle" textLength="21.8" lengthAdjust="spacingAndGlyphs">00</text><text x="106.6" y="393.5" text-anchor="middle" textLength="21.8" lengthAdjust="spacingAndGlyphs">01</text><text x="150.7" y="393.5" text-anchor="middle" textLength="21.8" lengthAdjust="spacingAndGlyphs">02</text><text x="194.7" y="393.5" text-anchor="middle" textLength="21.8" lengthAdjust="spacingAndGlyphs">03</text><text x="238.8" y="393.5" text-anchor="middle" textLength="21.8" lengthAdjust="spacingAndGlyphs">04</text><text x="282.9" y="393.5" text-anchor="middle" textLength="21.8" lengthAdjust="spacingAndGlyphs">05</text><text x="327.0" y="393.5" text-anchor="middle" textLength="21.8" lengthAdjust="spacingAndGlyphs">06</text><text x="371.1" y="393.5" text-anchor="middle" textLength="21.8" lengthAdjust="spacingAndGlyphs">07</text><text x="415.1" y="393.5" text-anchor="middle" textLength="21.8" lengthAdjust="spacingAndGlyphs">08</text><text x="459.2" y="393.5" text-anchor="middle" textLength="21.8" lengthAdjust="spacingAndGlyphs">09</text><text x="503.3" y="393.5" text-anchor="middle" textLength="21.8" lengthAdjust="spacingAndGlyphs">10</text><text x="547.4" y="393.5" text-anchor="middle" textLength="21.8" lengthAdjust="spacingAndGlyphs">11</text><text x="591.5" y="393.5" text-anchor="middle" textLength="21.8" lengthAdjust="spacingAndGlyphs">12</text><text x="635.5" y="393.5" text-anchor="middle" textLength="21.8" lengthAdjust="spacingAndGlyphs">13</text><text x="679.6" y="393.5" text-anchor="middle" textLength="21.8" lengthAdjust="spacingAndGlyphs">14</text><text x="723.7" y="393.5" text-anchor="middle" textLength="21.8" lengthAdjust="spacingAndGlyphs">15</text><text x="767.8" y="393.5" text-anchor="middle" textLength="21.8" lengthAdjust="spacingAndGlyphs">16</text><text x="811.9" y="393.5" text-anchor="middle" textLength="21.8" lengthAdjust="spacingAndGlyphs">17</text><text x="855.9" y="393.5" text-anchor="middle" textLength="21.8" lengthAdjust="spacingAndGlyphs">18</text><text x="900.0" y="393.5" text-anchor="middle" textLength="21.8" lengthAdjust="spacingAndGlyphs">19</text><text x="944.1" y="393.5" text-anchor="middle" textLength="21.8" lengthAdjust="spacingAndGlyphs">20</text><text x="988.2" y="393.5" text-anchor="middle" textLength="21.8" lengthAdjust="spacingAndGlyphs">21</text><text x="1032.3" y="393.5" text-anchor="middle" textLength="21.8" lengthAdjust="spacingAndGlyphs">22</text><text x="1076.3" y="393.5" text-anchor="middle" textLength="21.8" lengthAdjust="spacingAndGlyphs">23</text></g>
<g class="t">
<text x="43.1" y="421" font-size="21.4px" textLength="104.6" lengthAdjust="spacingAndGlyphs">02/02/2025</text>
<text x="1016.8" y="421" font-size="21.4px" textLength="104.6" lengthAdjust="spacingAndGlyphs">03/02/2025</text>
<text x="413" y="421" font-size="19px" textLength="76" lengthAdjust="spacingAndGlyphs">香港時間</text>
<text x="496" y="420.4" font-size="19px">(</text>
<text x="510.6" y="421" font-size="19px">時</text>
<text x="537" y="420.4" font-size="19px">)</text>
<text x="555.2" y="421" font-size="20.6px" textLength="215" lengthAdjust="spacingAndGlyphs">Hong Kong Time (Hour)</text>
</g>
<text x="47.2" y="460.3" font-family="'Liberation Sans',sans-serif" font-size="22px" fill="#c9c9c9" textLength="38.4" lengthAdjust="spacingAndGlyphs">KPC</text>
<g font-family="'Liberation Sans','Noto Sans CJK TC',sans-serif" fill="#2b22ff" font-size="22.4px">
<text x="729.6" y="455" textLength="19.4" lengthAdjust="spacingAndGlyphs">©</text>
<text x="750.6" y="455" font-size="20.6px" textLength="103.4" lengthAdjust="spacingAndGlyphs">香港天文台</text>
<text x="862.2" y="455" textLength="240.2" lengthAdjust="spacingAndGlyphs">Hong Kong Observatory</text>
</g>
</svg>
</body></html>
